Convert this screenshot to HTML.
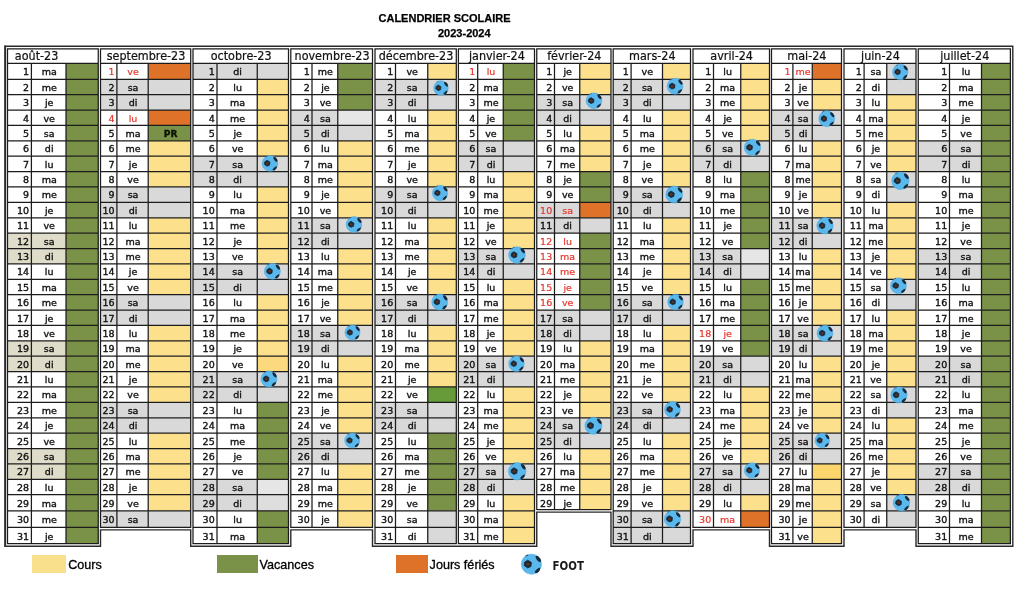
<!DOCTYPE html>
<html lang="fr">
<head>
<meta charset="utf-8">
<title>Calendrier scolaire 2023-2024</title>
<style>
html,body{margin:0;padding:0;background:#fff;}
body{width:1024px;height:592px;position:relative;overflow:hidden;font-family:"Liberation Sans",sans-serif;color:#111;}
.grid{position:absolute;left:0;top:0;display:block;}
.title{position:absolute;font-weight:bold;font-size:11px;line-height:12px;white-space:nowrap;margin:0;color:#000;-webkit-text-stroke:0.25px #000;}
.t1{left:378.5px;top:12px;}
.t2{left:438px;top:26.7px;}
.legend{position:absolute;left:0;top:0;margin:0;padding:0;list-style:none;}
.legend li{position:absolute;white-space:nowrap;font-size:12.6px;line-height:14px;color:#000;-webkit-text-stroke:0.3px #000;}
.legend .sw{position:absolute;top:0;height:17.7px;}
.legend .lb{position:absolute;top:3.1px;}
</style>
</head>
<body>
<svg class="grid" width="1024" height="592" viewBox="0 0 1024 592">
 <g class="fills">
  <rect x="66" y="63.45" width="32.25" height="15.83" fill="#7a9247"/>
  <rect x="66" y="79.28" width="32.25" height="15.39" fill="#7a9247"/>
  <rect x="66" y="94.67" width="32.25" height="15.39" fill="#7a9247"/>
  <rect x="66" y="110.06" width="32.25" height="15.38" fill="#7a9247"/>
  <rect x="66" y="125.44" width="32.25" height="15.38" fill="#7a9247"/>
  <rect x="66" y="140.82" width="32.25" height="15.39" fill="#7a9247"/>
  <rect x="66" y="156.21" width="32.25" height="15.38" fill="#7a9247"/>
  <rect x="66" y="171.59" width="32.25" height="15.39" fill="#7a9247"/>
  <rect x="66" y="186.98" width="32.25" height="15.39" fill="#7a9247"/>
  <rect x="66" y="202.37" width="32.25" height="15.38" fill="#7a9247"/>
  <rect x="66" y="217.75" width="32.25" height="15.38" fill="#7a9247"/>
  <rect x="7.5" y="233.13" width="58.5" height="15.39" fill="#dfdcc9"/>
  <rect x="66" y="233.13" width="32.25" height="15.39" fill="#7a9247"/>
  <rect x="7.5" y="248.52" width="58.5" height="15.38" fill="#dfdcc9"/>
  <rect x="66" y="248.52" width="32.25" height="15.38" fill="#7a9247"/>
  <rect x="66" y="263.9" width="32.25" height="15.39" fill="#7a9247"/>
  <rect x="66" y="279.29" width="32.25" height="15.39" fill="#7a9247"/>
  <rect x="66" y="294.68" width="32.25" height="15.38" fill="#7a9247"/>
  <rect x="66" y="310.06" width="32.25" height="15.38" fill="#7a9247"/>
  <rect x="66" y="325.44" width="32.25" height="15.39" fill="#7a9247"/>
  <rect x="7.5" y="340.83" width="58.5" height="15.38" fill="#dfdcc9"/>
  <rect x="66" y="340.83" width="32.25" height="15.38" fill="#7a9247"/>
  <rect x="7.5" y="356.21" width="58.5" height="15.39" fill="#dfdcc9"/>
  <rect x="66" y="356.21" width="32.25" height="15.39" fill="#7a9247"/>
  <rect x="66" y="371.6" width="32.25" height="15.38" fill="#7a9247"/>
  <rect x="66" y="386.98" width="32.25" height="15.39" fill="#7a9247"/>
  <rect x="66" y="402.37" width="32.25" height="15.38" fill="#7a9247"/>
  <rect x="66" y="417.75" width="32.25" height="15.39" fill="#7a9247"/>
  <rect x="66" y="433.14" width="32.25" height="15.38" fill="#7a9247"/>
  <rect x="7.5" y="448.52" width="58.5" height="15.39" fill="#dfdcc9"/>
  <rect x="66" y="448.52" width="32.25" height="15.39" fill="#7a9247"/>
  <rect x="7.5" y="463.91" width="58.5" height="15.38" fill="#dfdcc9"/>
  <rect x="66" y="463.91" width="32.25" height="15.38" fill="#7a9247"/>
  <rect x="66" y="479.29" width="32.25" height="15.39" fill="#7a9247"/>
  <rect x="66" y="494.68" width="32.25" height="16.12" fill="#7a9247"/>
  <rect x="66" y="510.8" width="32.25" height="16.5" fill="#7a9247"/>
  <rect x="66" y="527.3" width="32.25" height="16.3" fill="#7a9247"/>
  <rect x="148.2" y="63.45" width="42.5" height="15.83" fill="#dd7228"/>
  <rect x="100.5" y="79.28" width="47.7" height="15.39" fill="#d9d9d9"/>
  <rect x="148.2" y="79.28" width="42.5" height="15.39" fill="#d9d9d9"/>
  <rect x="100.5" y="94.67" width="47.7" height="15.39" fill="#d9d9d9"/>
  <rect x="148.2" y="94.67" width="42.5" height="15.39" fill="#d9d9d9"/>
  <rect x="148.2" y="110.06" width="42.5" height="15.38" fill="#dd7228"/>
  <rect x="148.2" y="125.44" width="42.5" height="15.38" fill="#7a9247"/>
  <rect x="148.2" y="140.82" width="42.5" height="15.39" fill="#fde08c"/>
  <rect x="148.2" y="156.21" width="42.5" height="15.38" fill="#fde08c"/>
  <rect x="148.2" y="171.59" width="42.5" height="15.39" fill="#fde08c"/>
  <rect x="100.5" y="186.98" width="47.7" height="15.39" fill="#d9d9d9"/>
  <rect x="148.2" y="186.98" width="42.5" height="15.39" fill="#d9d9d9"/>
  <rect x="100.5" y="202.37" width="47.7" height="15.38" fill="#d9d9d9"/>
  <rect x="148.2" y="202.37" width="42.5" height="15.38" fill="#d9d9d9"/>
  <rect x="148.2" y="217.75" width="42.5" height="15.38" fill="#fde08c"/>
  <rect x="148.2" y="233.13" width="42.5" height="15.39" fill="#fde08c"/>
  <rect x="148.2" y="248.52" width="42.5" height="15.38" fill="#fde08c"/>
  <rect x="148.2" y="263.9" width="42.5" height="15.39" fill="#fde08c"/>
  <rect x="148.2" y="279.29" width="42.5" height="15.39" fill="#fde08c"/>
  <rect x="100.5" y="294.68" width="47.7" height="15.38" fill="#d9d9d9"/>
  <rect x="148.2" y="294.68" width="42.5" height="15.38" fill="#d9d9d9"/>
  <rect x="100.5" y="310.06" width="47.7" height="15.38" fill="#d9d9d9"/>
  <rect x="148.2" y="310.06" width="42.5" height="15.38" fill="#d9d9d9"/>
  <rect x="148.2" y="325.44" width="42.5" height="15.39" fill="#fde08c"/>
  <rect x="148.2" y="340.83" width="42.5" height="15.38" fill="#fde08c"/>
  <rect x="148.2" y="356.21" width="42.5" height="15.39" fill="#fde08c"/>
  <rect x="148.2" y="371.6" width="42.5" height="15.38" fill="#fde08c"/>
  <rect x="148.2" y="386.98" width="42.5" height="15.39" fill="#fde08c"/>
  <rect x="100.5" y="402.37" width="47.7" height="15.38" fill="#d9d9d9"/>
  <rect x="148.2" y="402.37" width="42.5" height="15.38" fill="#d9d9d9"/>
  <rect x="100.5" y="417.75" width="47.7" height="15.39" fill="#d9d9d9"/>
  <rect x="148.2" y="417.75" width="42.5" height="15.39" fill="#d9d9d9"/>
  <rect x="148.2" y="433.14" width="42.5" height="15.38" fill="#fde08c"/>
  <rect x="148.2" y="448.52" width="42.5" height="15.39" fill="#fde08c"/>
  <rect x="148.2" y="463.91" width="42.5" height="15.38" fill="#fde08c"/>
  <rect x="148.2" y="479.29" width="42.5" height="15.39" fill="#fde08c"/>
  <rect x="148.2" y="494.68" width="42.5" height="16.12" fill="#fde08c"/>
  <rect x="100.5" y="510.8" width="47.7" height="16.5" fill="#d9d9d9"/>
  <rect x="148.2" y="510.8" width="42.5" height="16.5" fill="#d9d9d9"/>
  <rect x="193" y="63.45" width="64.25" height="15.83" fill="#d9d9d9"/>
  <rect x="257.25" y="63.45" width="31.25" height="15.83" fill="#d9d9d9"/>
  <rect x="257.25" y="79.28" width="31.25" height="15.39" fill="#fde08c"/>
  <rect x="257.25" y="94.67" width="31.25" height="15.39" fill="#fde08c"/>
  <rect x="257.25" y="110.06" width="31.25" height="15.38" fill="#fde08c"/>
  <rect x="257.25" y="125.44" width="31.25" height="15.38" fill="#fde08c"/>
  <rect x="257.25" y="140.82" width="31.25" height="15.39" fill="#fde08c"/>
  <rect x="193" y="156.21" width="64.25" height="15.38" fill="#d9d9d9"/>
  <rect x="257.25" y="156.21" width="31.25" height="15.38" fill="#d9d9d9"/>
  <rect x="193" y="171.59" width="64.25" height="15.39" fill="#d9d9d9"/>
  <rect x="257.25" y="171.59" width="31.25" height="15.39" fill="#d9d9d9"/>
  <rect x="257.25" y="186.98" width="31.25" height="15.39" fill="#fde08c"/>
  <rect x="257.25" y="202.37" width="31.25" height="15.38" fill="#fde08c"/>
  <rect x="257.25" y="217.75" width="31.25" height="15.38" fill="#fde08c"/>
  <rect x="257.25" y="233.13" width="31.25" height="15.39" fill="#fde08c"/>
  <rect x="257.25" y="248.52" width="31.25" height="15.38" fill="#fde08c"/>
  <rect x="193" y="263.9" width="64.25" height="15.39" fill="#d9d9d9"/>
  <rect x="257.25" y="263.9" width="31.25" height="15.39" fill="#d9d9d9"/>
  <rect x="193" y="279.29" width="64.25" height="15.39" fill="#d9d9d9"/>
  <rect x="257.25" y="279.29" width="31.25" height="15.39" fill="#d9d9d9"/>
  <rect x="257.25" y="294.68" width="31.25" height="15.38" fill="#fde08c"/>
  <rect x="257.25" y="310.06" width="31.25" height="15.38" fill="#fde08c"/>
  <rect x="257.25" y="325.44" width="31.25" height="15.39" fill="#fde08c"/>
  <rect x="257.25" y="340.83" width="31.25" height="15.38" fill="#fde08c"/>
  <rect x="257.25" y="356.21" width="31.25" height="15.39" fill="#fcd97e"/>
  <rect x="193" y="371.6" width="64.25" height="15.38" fill="#d9d9d9"/>
  <rect x="257.25" y="371.6" width="31.25" height="15.38" fill="#d9d9d9"/>
  <rect x="193" y="386.98" width="64.25" height="15.39" fill="#d9d9d9"/>
  <rect x="257.25" y="386.98" width="31.25" height="15.39" fill="#d9d9d9"/>
  <rect x="257.25" y="402.37" width="31.25" height="15.38" fill="#7a9247"/>
  <rect x="257.25" y="417.75" width="31.25" height="15.39" fill="#7a9247"/>
  <rect x="257.25" y="433.14" width="31.25" height="15.38" fill="#7a9247"/>
  <rect x="257.25" y="448.52" width="31.25" height="15.39" fill="#7a9247"/>
  <rect x="257.25" y="463.91" width="31.25" height="15.38" fill="#7a9247"/>
  <rect x="193" y="479.29" width="64.25" height="15.39" fill="#d9d9d9"/>
  <rect x="257.25" y="479.29" width="31.25" height="15.39" fill="#e6e6e6"/>
  <rect x="193" y="494.68" width="64.25" height="16.12" fill="#d9d9d9"/>
  <rect x="257.25" y="494.68" width="31.25" height="16.12" fill="#dedede"/>
  <rect x="257.25" y="510.8" width="31.25" height="16.5" fill="#7a9247"/>
  <rect x="257.25" y="527.3" width="31.25" height="16.3" fill="#7a9247"/>
  <rect x="337.75" y="63.45" width="34.75" height="15.83" fill="#7a9247"/>
  <rect x="337.75" y="79.28" width="34.75" height="15.39" fill="#7a9247"/>
  <rect x="337.75" y="94.67" width="34.75" height="15.39" fill="#7a9247"/>
  <rect x="290.8" y="110.06" width="46.95" height="15.38" fill="#d9d9d9"/>
  <rect x="337.75" y="110.06" width="34.75" height="15.38" fill="#e6e6e6"/>
  <rect x="290.8" y="125.44" width="46.95" height="15.38" fill="#d9d9d9"/>
  <rect x="337.75" y="125.44" width="34.75" height="15.38" fill="#d9d9d9"/>
  <rect x="337.75" y="140.82" width="34.75" height="15.39" fill="#fde08c"/>
  <rect x="337.75" y="156.21" width="34.75" height="15.38" fill="#fde08c"/>
  <rect x="337.75" y="171.59" width="34.75" height="15.39" fill="#fde08c"/>
  <rect x="337.75" y="186.98" width="34.75" height="15.39" fill="#fde08c"/>
  <rect x="337.75" y="202.37" width="34.75" height="15.38" fill="#fde08c"/>
  <rect x="290.8" y="217.75" width="46.95" height="15.38" fill="#d9d9d9"/>
  <rect x="337.75" y="217.75" width="34.75" height="15.38" fill="#d9d9d9"/>
  <rect x="290.8" y="233.13" width="46.95" height="15.39" fill="#d9d9d9"/>
  <rect x="337.75" y="233.13" width="34.75" height="15.39" fill="#d9d9d9"/>
  <rect x="337.75" y="248.52" width="34.75" height="15.38" fill="#fde08c"/>
  <rect x="337.75" y="263.9" width="34.75" height="15.39" fill="#fde08c"/>
  <rect x="337.75" y="279.29" width="34.75" height="15.39" fill="#fde08c"/>
  <rect x="337.75" y="294.68" width="34.75" height="15.38" fill="#fde08c"/>
  <rect x="337.75" y="310.06" width="34.75" height="15.38" fill="#fde08c"/>
  <rect x="290.8" y="325.44" width="46.95" height="15.39" fill="#d9d9d9"/>
  <rect x="337.75" y="325.44" width="34.75" height="15.39" fill="#d9d9d9"/>
  <rect x="290.8" y="340.83" width="46.95" height="15.38" fill="#d9d9d9"/>
  <rect x="337.75" y="340.83" width="34.75" height="15.38" fill="#d9d9d9"/>
  <rect x="337.75" y="356.21" width="34.75" height="15.39" fill="#fde08c"/>
  <rect x="337.75" y="371.6" width="34.75" height="15.38" fill="#fde08c"/>
  <rect x="337.75" y="386.98" width="34.75" height="15.39" fill="#fde08c"/>
  <rect x="337.75" y="402.37" width="34.75" height="15.38" fill="#fde08c"/>
  <rect x="337.75" y="417.75" width="34.75" height="15.39" fill="#fde08c"/>
  <rect x="290.8" y="433.14" width="46.95" height="15.38" fill="#d9d9d9"/>
  <rect x="337.75" y="433.14" width="34.75" height="15.38" fill="#d9d9d9"/>
  <rect x="290.8" y="448.52" width="46.95" height="15.39" fill="#d9d9d9"/>
  <rect x="337.75" y="448.52" width="34.75" height="15.39" fill="#d9d9d9"/>
  <rect x="337.75" y="463.91" width="34.75" height="15.38" fill="#fde08c"/>
  <rect x="337.75" y="479.29" width="34.75" height="15.39" fill="#fde08c"/>
  <rect x="337.75" y="494.68" width="34.75" height="16.12" fill="#fde08c"/>
  <rect x="337.75" y="510.8" width="34.75" height="16.5" fill="#fde08c"/>
  <rect x="427.75" y="63.45" width="28.55" height="15.83" fill="#fde08c"/>
  <rect x="375" y="79.28" width="52.75" height="15.39" fill="#d9d9d9"/>
  <rect x="427.75" y="79.28" width="28.55" height="15.39" fill="#d9d9d9"/>
  <rect x="375" y="94.67" width="52.75" height="15.39" fill="#d9d9d9"/>
  <rect x="427.75" y="94.67" width="28.55" height="15.39" fill="#d9d9d9"/>
  <rect x="427.75" y="110.06" width="28.55" height="15.38" fill="#fde08c"/>
  <rect x="427.75" y="125.44" width="28.55" height="15.38" fill="#fde08c"/>
  <rect x="427.75" y="140.82" width="28.55" height="15.39" fill="#fde08c"/>
  <rect x="427.75" y="156.21" width="28.55" height="15.38" fill="#fde08c"/>
  <rect x="427.75" y="171.59" width="28.55" height="15.39" fill="#fde08c"/>
  <rect x="375" y="186.98" width="52.75" height="15.39" fill="#d9d9d9"/>
  <rect x="427.75" y="186.98" width="28.55" height="15.39" fill="#d9d9d9"/>
  <rect x="375" y="202.37" width="52.75" height="15.38" fill="#d9d9d9"/>
  <rect x="427.75" y="202.37" width="28.55" height="15.38" fill="#d9d9d9"/>
  <rect x="427.75" y="217.75" width="28.55" height="15.38" fill="#fde08c"/>
  <rect x="427.75" y="233.13" width="28.55" height="15.39" fill="#fde08c"/>
  <rect x="427.75" y="248.52" width="28.55" height="15.38" fill="#fde08c"/>
  <rect x="427.75" y="263.9" width="28.55" height="15.39" fill="#fde08c"/>
  <rect x="427.75" y="279.29" width="28.55" height="15.39" fill="#fde08c"/>
  <rect x="375" y="294.68" width="52.75" height="15.38" fill="#d9d9d9"/>
  <rect x="427.75" y="294.68" width="28.55" height="15.38" fill="#d9d9d9"/>
  <rect x="375" y="310.06" width="52.75" height="15.38" fill="#d9d9d9"/>
  <rect x="427.75" y="310.06" width="28.55" height="15.38" fill="#d9d9d9"/>
  <rect x="427.75" y="325.44" width="28.55" height="15.39" fill="#fde08c"/>
  <rect x="427.75" y="340.83" width="28.55" height="15.38" fill="#fde08c"/>
  <rect x="427.75" y="356.21" width="28.55" height="15.39" fill="#fde08c"/>
  <rect x="427.75" y="371.6" width="28.55" height="15.38" fill="#fde08c"/>
  <rect x="427.75" y="386.98" width="28.55" height="15.39" fill="#679b3a"/>
  <rect x="375" y="402.37" width="52.75" height="15.38" fill="#d9d9d9"/>
  <rect x="427.75" y="402.37" width="28.55" height="15.38" fill="#d9d9d9"/>
  <rect x="375" y="417.75" width="52.75" height="15.39" fill="#d9d9d9"/>
  <rect x="427.75" y="417.75" width="28.55" height="15.39" fill="#d9d9d9"/>
  <rect x="427.75" y="433.14" width="28.55" height="15.38" fill="#7a9247"/>
  <rect x="427.75" y="448.52" width="28.55" height="15.39" fill="#7a9247"/>
  <rect x="427.75" y="463.91" width="28.55" height="15.38" fill="#7a9247"/>
  <rect x="427.75" y="479.29" width="28.55" height="15.39" fill="#7a9247"/>
  <rect x="427.75" y="494.68" width="28.55" height="16.12" fill="#7a9247"/>
  <rect x="427.75" y="510.8" width="28.55" height="16.5" fill="#d9d9d9"/>
  <rect x="427.75" y="527.3" width="28.55" height="16.3" fill="#d9d9d9"/>
  <rect x="503.25" y="63.45" width="31.25" height="15.83" fill="#7a9247"/>
  <rect x="503.25" y="79.28" width="31.25" height="15.39" fill="#7a9247"/>
  <rect x="503.25" y="94.67" width="31.25" height="15.39" fill="#7a9247"/>
  <rect x="503.25" y="110.06" width="31.25" height="15.38" fill="#7a9247"/>
  <rect x="503.25" y="125.44" width="31.25" height="15.38" fill="#7a9247"/>
  <rect x="458.4" y="140.82" width="44.85" height="15.39" fill="#d9d9d9"/>
  <rect x="503.25" y="140.82" width="31.25" height="15.39" fill="#d9d9d9"/>
  <rect x="458.4" y="156.21" width="44.85" height="15.38" fill="#d9d9d9"/>
  <rect x="503.25" y="156.21" width="31.25" height="15.38" fill="#d9d9d9"/>
  <rect x="503.25" y="171.59" width="31.25" height="15.39" fill="#fde08c"/>
  <rect x="503.25" y="186.98" width="31.25" height="15.39" fill="#fde08c"/>
  <rect x="503.25" y="202.37" width="31.25" height="15.38" fill="#fde08c"/>
  <rect x="503.25" y="217.75" width="31.25" height="15.38" fill="#fde08c"/>
  <rect x="503.25" y="233.13" width="31.25" height="15.39" fill="#fde08c"/>
  <rect x="458.4" y="248.52" width="44.85" height="15.38" fill="#d9d9d9"/>
  <rect x="503.25" y="248.52" width="31.25" height="15.38" fill="#d9d9d9"/>
  <rect x="458.4" y="263.9" width="44.85" height="15.39" fill="#d9d9d9"/>
  <rect x="503.25" y="263.9" width="31.25" height="15.39" fill="#d9d9d9"/>
  <rect x="503.25" y="279.29" width="31.25" height="15.39" fill="#fde08c"/>
  <rect x="503.25" y="294.68" width="31.25" height="15.38" fill="#fde08c"/>
  <rect x="503.25" y="310.06" width="31.25" height="15.38" fill="#fde08c"/>
  <rect x="503.25" y="325.44" width="31.25" height="15.39" fill="#fde08c"/>
  <rect x="503.25" y="340.83" width="31.25" height="15.38" fill="#fde08c"/>
  <rect x="458.4" y="356.21" width="44.85" height="15.39" fill="#d9d9d9"/>
  <rect x="503.25" y="356.21" width="31.25" height="15.39" fill="#d9d9d9"/>
  <rect x="458.4" y="371.6" width="44.85" height="15.38" fill="#d9d9d9"/>
  <rect x="503.25" y="371.6" width="31.25" height="15.38" fill="#d9d9d9"/>
  <rect x="503.25" y="386.98" width="31.25" height="15.39" fill="#fde08c"/>
  <rect x="503.25" y="402.37" width="31.25" height="15.38" fill="#fde08c"/>
  <rect x="503.25" y="417.75" width="31.25" height="15.39" fill="#fde08c"/>
  <rect x="503.25" y="433.14" width="31.25" height="15.38" fill="#fde08c"/>
  <rect x="503.25" y="448.52" width="31.25" height="15.39" fill="#fde08c"/>
  <rect x="458.4" y="463.91" width="44.85" height="15.38" fill="#d9d9d9"/>
  <rect x="503.25" y="463.91" width="31.25" height="15.38" fill="#d9d9d9"/>
  <rect x="458.4" y="479.29" width="44.85" height="15.39" fill="#d9d9d9"/>
  <rect x="503.25" y="479.29" width="31.25" height="15.39" fill="#d9d9d9"/>
  <rect x="503.25" y="494.68" width="31.25" height="16.12" fill="#fde08c"/>
  <rect x="503.25" y="510.8" width="31.25" height="16.5" fill="#fde08c"/>
  <rect x="503.25" y="527.3" width="31.25" height="16.3" fill="#fde08c"/>
  <rect x="579.75" y="63.45" width="31.25" height="15.83" fill="#fde08c"/>
  <rect x="579.75" y="79.28" width="31.25" height="15.39" fill="#fde08c"/>
  <rect x="536.75" y="94.67" width="43" height="15.39" fill="#d9d9d9"/>
  <rect x="579.75" y="94.67" width="31.25" height="15.39" fill="#d9d9d9"/>
  <rect x="536.75" y="110.06" width="43" height="15.38" fill="#d9d9d9"/>
  <rect x="579.75" y="110.06" width="31.25" height="15.38" fill="#d9d9d9"/>
  <rect x="579.75" y="125.44" width="31.25" height="15.38" fill="#fde08c"/>
  <rect x="579.75" y="140.82" width="31.25" height="15.39" fill="#fde08c"/>
  <rect x="579.75" y="156.21" width="31.25" height="15.38" fill="#fde08c"/>
  <rect x="579.75" y="171.59" width="31.25" height="15.39" fill="#7a9247"/>
  <rect x="579.75" y="186.98" width="31.25" height="15.39" fill="#7a9247"/>
  <rect x="536.75" y="202.37" width="43" height="15.38" fill="#d9d9d9"/>
  <rect x="579.75" y="202.37" width="31.25" height="15.38" fill="#dd7228"/>
  <rect x="536.75" y="217.75" width="43" height="15.38" fill="#d9d9d9"/>
  <rect x="579.75" y="217.75" width="31.25" height="15.38" fill="#d9d9d9"/>
  <rect x="579.75" y="233.13" width="31.25" height="15.39" fill="#7a9247"/>
  <rect x="579.75" y="248.52" width="31.25" height="15.38" fill="#7a9247"/>
  <rect x="579.75" y="263.9" width="31.25" height="15.39" fill="#7a9247"/>
  <rect x="579.75" y="279.29" width="31.25" height="15.39" fill="#7a9247"/>
  <rect x="579.75" y="294.68" width="31.25" height="15.38" fill="#7a9247"/>
  <rect x="536.75" y="310.06" width="43" height="15.38" fill="#d9d9d9"/>
  <rect x="579.75" y="310.06" width="31.25" height="15.38" fill="#d9d9d9"/>
  <rect x="536.75" y="325.44" width="43" height="15.39" fill="#d9d9d9"/>
  <rect x="579.75" y="325.44" width="31.25" height="15.39" fill="#d9d9d9"/>
  <rect x="579.75" y="340.83" width="31.25" height="15.38" fill="#fde08c"/>
  <rect x="579.75" y="356.21" width="31.25" height="15.39" fill="#fde08c"/>
  <rect x="579.75" y="371.6" width="31.25" height="15.38" fill="#fde08c"/>
  <rect x="579.75" y="386.98" width="31.25" height="15.39" fill="#fde08c"/>
  <rect x="579.75" y="402.37" width="31.25" height="15.38" fill="#fde08c"/>
  <rect x="536.75" y="417.75" width="43" height="15.39" fill="#d9d9d9"/>
  <rect x="579.75" y="417.75" width="31.25" height="15.39" fill="#d9d9d9"/>
  <rect x="536.75" y="433.14" width="43" height="15.38" fill="#d9d9d9"/>
  <rect x="579.75" y="433.14" width="31.25" height="15.38" fill="#d9d9d9"/>
  <rect x="579.75" y="448.52" width="31.25" height="15.39" fill="#fde08c"/>
  <rect x="579.75" y="463.91" width="31.25" height="15.38" fill="#fde08c"/>
  <rect x="579.75" y="479.29" width="31.25" height="15.39" fill="#fde08c"/>
  <rect x="579.75" y="494.68" width="31.25" height="14.82" fill="#fde08c"/>
  <rect x="662.5" y="63.45" width="28" height="15.83" fill="#fde08c"/>
  <rect x="613.2" y="79.28" width="49.3" height="15.39" fill="#d9d9d9"/>
  <rect x="662.5" y="79.28" width="28" height="15.39" fill="#d9d9d9"/>
  <rect x="613.2" y="94.67" width="49.3" height="15.39" fill="#d9d9d9"/>
  <rect x="662.5" y="94.67" width="28" height="15.39" fill="#d9d9d9"/>
  <rect x="662.5" y="110.06" width="28" height="15.38" fill="#fde08c"/>
  <rect x="662.5" y="125.44" width="28" height="15.38" fill="#fde08c"/>
  <rect x="662.5" y="140.82" width="28" height="15.39" fill="#fde08c"/>
  <rect x="662.5" y="156.21" width="28" height="15.38" fill="#fde08c"/>
  <rect x="662.5" y="171.59" width="28" height="15.39" fill="#fde08c"/>
  <rect x="613.2" y="186.98" width="49.3" height="15.39" fill="#d9d9d9"/>
  <rect x="662.5" y="186.98" width="28" height="15.39" fill="#d9d9d9"/>
  <rect x="613.2" y="202.37" width="49.3" height="15.38" fill="#d9d9d9"/>
  <rect x="662.5" y="202.37" width="28" height="15.38" fill="#d9d9d9"/>
  <rect x="662.5" y="217.75" width="28" height="15.38" fill="#fde08c"/>
  <rect x="662.5" y="233.13" width="28" height="15.39" fill="#fde08c"/>
  <rect x="662.5" y="248.52" width="28" height="15.38" fill="#fde08c"/>
  <rect x="662.5" y="263.9" width="28" height="15.39" fill="#fde08c"/>
  <rect x="662.5" y="279.29" width="28" height="15.39" fill="#fde08c"/>
  <rect x="613.2" y="294.68" width="49.3" height="15.38" fill="#d9d9d9"/>
  <rect x="662.5" y="294.68" width="28" height="15.38" fill="#d9d9d9"/>
  <rect x="613.2" y="310.06" width="49.3" height="15.38" fill="#d9d9d9"/>
  <rect x="662.5" y="310.06" width="28" height="15.38" fill="#d9d9d9"/>
  <rect x="662.5" y="325.44" width="28" height="15.39" fill="#fde08c"/>
  <rect x="662.5" y="340.83" width="28" height="15.38" fill="#fde08c"/>
  <rect x="662.5" y="356.21" width="28" height="15.39" fill="#fde08c"/>
  <rect x="662.5" y="371.6" width="28" height="15.38" fill="#fde08c"/>
  <rect x="662.5" y="386.98" width="28" height="15.39" fill="#fde08c"/>
  <rect x="613.2" y="402.37" width="49.3" height="15.38" fill="#d9d9d9"/>
  <rect x="662.5" y="402.37" width="28" height="15.38" fill="#d9d9d9"/>
  <rect x="613.2" y="417.75" width="49.3" height="15.39" fill="#d9d9d9"/>
  <rect x="662.5" y="417.75" width="28" height="15.39" fill="#d9d9d9"/>
  <rect x="662.5" y="433.14" width="28" height="15.38" fill="#fde08c"/>
  <rect x="662.5" y="448.52" width="28" height="15.39" fill="#fde08c"/>
  <rect x="662.5" y="463.91" width="28" height="15.38" fill="#fde08c"/>
  <rect x="662.5" y="479.29" width="28" height="15.39" fill="#fde08c"/>
  <rect x="662.5" y="494.68" width="28" height="16.12" fill="#fde08c"/>
  <rect x="613.2" y="510.8" width="49.3" height="16.5" fill="#d9d9d9"/>
  <rect x="662.5" y="510.8" width="28" height="16.5" fill="#d9d9d9"/>
  <rect x="613.2" y="527.3" width="49.3" height="16.3" fill="#d9d9d9"/>
  <rect x="662.5" y="527.3" width="28" height="16.3" fill="#d9d9d9"/>
  <rect x="740.75" y="63.45" width="28.75" height="15.83" fill="#fde08c"/>
  <rect x="740.75" y="79.28" width="28.75" height="15.39" fill="#fde08c"/>
  <rect x="740.75" y="94.67" width="28.75" height="15.39" fill="#fde08c"/>
  <rect x="740.75" y="110.06" width="28.75" height="15.38" fill="#fde08c"/>
  <rect x="740.75" y="125.44" width="28.75" height="15.38" fill="#fde08c"/>
  <rect x="693" y="140.82" width="47.75" height="15.39" fill="#d9d9d9"/>
  <rect x="740.75" y="140.82" width="28.75" height="15.39" fill="#d9d9d9"/>
  <rect x="693" y="156.21" width="47.75" height="15.38" fill="#d9d9d9"/>
  <rect x="740.75" y="156.21" width="28.75" height="15.38" fill="#d9d9d9"/>
  <rect x="740.75" y="171.59" width="28.75" height="15.39" fill="#7a9247"/>
  <rect x="740.75" y="186.98" width="28.75" height="15.39" fill="#7a9247"/>
  <rect x="740.75" y="202.37" width="28.75" height="15.38" fill="#7a9247"/>
  <rect x="740.75" y="217.75" width="28.75" height="15.38" fill="#7a9247"/>
  <rect x="740.75" y="233.13" width="28.75" height="15.39" fill="#7a9247"/>
  <rect x="693" y="248.52" width="47.75" height="15.38" fill="#d9d9d9"/>
  <rect x="740.75" y="248.52" width="28.75" height="15.38" fill="#e6e6e6"/>
  <rect x="693" y="263.9" width="47.75" height="15.39" fill="#d9d9d9"/>
  <rect x="740.75" y="263.9" width="28.75" height="15.39" fill="#dedede"/>
  <rect x="740.75" y="279.29" width="28.75" height="15.39" fill="#7a9247"/>
  <rect x="740.75" y="294.68" width="28.75" height="15.38" fill="#7a9247"/>
  <rect x="740.75" y="310.06" width="28.75" height="15.38" fill="#7a9247"/>
  <rect x="740.75" y="325.44" width="28.75" height="15.39" fill="#7a9247"/>
  <rect x="740.75" y="340.83" width="28.75" height="15.38" fill="#7a9247"/>
  <rect x="693" y="356.21" width="47.75" height="15.39" fill="#d9d9d9"/>
  <rect x="740.75" y="356.21" width="28.75" height="15.39" fill="#d9d9d9"/>
  <rect x="693" y="371.6" width="47.75" height="15.38" fill="#d9d9d9"/>
  <rect x="740.75" y="371.6" width="28.75" height="15.38" fill="#d9d9d9"/>
  <rect x="740.75" y="386.98" width="28.75" height="15.39" fill="#fde08c"/>
  <rect x="740.75" y="402.37" width="28.75" height="15.38" fill="#fde08c"/>
  <rect x="740.75" y="417.75" width="28.75" height="15.39" fill="#fde08c"/>
  <rect x="740.75" y="433.14" width="28.75" height="15.38" fill="#fde08c"/>
  <rect x="740.75" y="448.52" width="28.75" height="15.39" fill="#fde08c"/>
  <rect x="693" y="463.91" width="47.75" height="15.38" fill="#d9d9d9"/>
  <rect x="740.75" y="463.91" width="28.75" height="15.38" fill="#d9d9d9"/>
  <rect x="693" y="479.29" width="47.75" height="15.39" fill="#d9d9d9"/>
  <rect x="740.75" y="479.29" width="28.75" height="15.39" fill="#d9d9d9"/>
  <rect x="740.75" y="494.68" width="28.75" height="16.12" fill="#fde08c"/>
  <rect x="740.75" y="510.8" width="28.75" height="16.5" fill="#dd7228"/>
  <rect x="812.25" y="63.45" width="29.25" height="15.83" fill="#dd7228"/>
  <rect x="812.25" y="79.28" width="29.25" height="15.39" fill="#fde08c"/>
  <rect x="812.25" y="94.67" width="29.25" height="15.39" fill="#fde08c"/>
  <rect x="771.5" y="110.06" width="40.75" height="15.38" fill="#d9d9d9"/>
  <rect x="812.25" y="110.06" width="29.25" height="15.38" fill="#d9d9d9"/>
  <rect x="771.5" y="125.44" width="40.75" height="15.38" fill="#d9d9d9"/>
  <rect x="812.25" y="125.44" width="29.25" height="15.38" fill="#d9d9d9"/>
  <rect x="812.25" y="140.82" width="29.25" height="15.39" fill="#fde08c"/>
  <rect x="812.25" y="156.21" width="29.25" height="15.38" fill="#fde08c"/>
  <rect x="812.25" y="171.59" width="29.25" height="15.39" fill="#fde08c"/>
  <rect x="812.25" y="186.98" width="29.25" height="15.39" fill="#fde08c"/>
  <rect x="812.25" y="202.37" width="29.25" height="15.38" fill="#fde08c"/>
  <rect x="771.5" y="217.75" width="40.75" height="15.38" fill="#d9d9d9"/>
  <rect x="812.25" y="217.75" width="29.25" height="15.38" fill="#d9d9d9"/>
  <rect x="771.5" y="233.13" width="40.75" height="15.39" fill="#d9d9d9"/>
  <rect x="812.25" y="233.13" width="29.25" height="15.39" fill="#d9d9d9"/>
  <rect x="812.25" y="248.52" width="29.25" height="15.38" fill="#fde08c"/>
  <rect x="812.25" y="263.9" width="29.25" height="15.39" fill="#fde08c"/>
  <rect x="812.25" y="279.29" width="29.25" height="15.39" fill="#fde08c"/>
  <rect x="812.25" y="294.68" width="29.25" height="15.38" fill="#fde08c"/>
  <rect x="812.25" y="310.06" width="29.25" height="15.38" fill="#fde08c"/>
  <rect x="771.5" y="325.44" width="40.75" height="15.39" fill="#d9d9d9"/>
  <rect x="812.25" y="325.44" width="29.25" height="15.39" fill="#d9d9d9"/>
  <rect x="771.5" y="340.83" width="40.75" height="15.38" fill="#d9d9d9"/>
  <rect x="812.25" y="340.83" width="29.25" height="15.38" fill="#d9d9d9"/>
  <rect x="812.25" y="356.21" width="29.25" height="15.39" fill="#fde08c"/>
  <rect x="812.25" y="371.6" width="29.25" height="15.38" fill="#fde08c"/>
  <rect x="812.25" y="386.98" width="29.25" height="15.39" fill="#fde08c"/>
  <rect x="812.25" y="402.37" width="29.25" height="15.38" fill="#fde08c"/>
  <rect x="812.25" y="417.75" width="29.25" height="15.39" fill="#fde08c"/>
  <rect x="771.5" y="433.14" width="40.75" height="15.38" fill="#d9d9d9"/>
  <rect x="812.25" y="433.14" width="29.25" height="15.38" fill="#d9d9d9"/>
  <rect x="771.5" y="448.52" width="40.75" height="15.39" fill="#d9d9d9"/>
  <rect x="812.25" y="448.52" width="29.25" height="15.39" fill="#d9d9d9"/>
  <rect x="812.25" y="463.91" width="29.25" height="15.38" fill="#fcd56c"/>
  <rect x="812.25" y="479.29" width="29.25" height="15.39" fill="#fde08c"/>
  <rect x="812.25" y="494.68" width="29.25" height="16.12" fill="#fde08c"/>
  <rect x="812.25" y="510.8" width="29.25" height="16.5" fill="#fde08c"/>
  <rect x="812.25" y="527.3" width="29.25" height="16.3" fill="#fde08c"/>
  <rect x="886.75" y="63.45" width="29.25" height="15.83" fill="#d9d9d9"/>
  <rect x="886.75" y="79.28" width="29.25" height="15.39" fill="#d9d9d9"/>
  <rect x="886.75" y="94.67" width="29.25" height="15.39" fill="#fde08c"/>
  <rect x="886.75" y="110.06" width="29.25" height="15.38" fill="#fde08c"/>
  <rect x="886.75" y="125.44" width="29.25" height="15.38" fill="#fde08c"/>
  <rect x="886.75" y="140.82" width="29.25" height="15.39" fill="#fde08c"/>
  <rect x="886.75" y="156.21" width="29.25" height="15.38" fill="#fde08c"/>
  <rect x="886.75" y="171.59" width="29.25" height="15.39" fill="#d9d9d9"/>
  <rect x="886.75" y="186.98" width="29.25" height="15.39" fill="#d9d9d9"/>
  <rect x="886.75" y="202.37" width="29.25" height="15.38" fill="#fde08c"/>
  <rect x="886.75" y="217.75" width="29.25" height="15.38" fill="#fde08c"/>
  <rect x="886.75" y="233.13" width="29.25" height="15.39" fill="#fde08c"/>
  <rect x="886.75" y="248.52" width="29.25" height="15.38" fill="#fde08c"/>
  <rect x="886.75" y="263.9" width="29.25" height="15.39" fill="#fde08c"/>
  <rect x="886.75" y="279.29" width="29.25" height="15.39" fill="#d9d9d9"/>
  <rect x="886.75" y="294.68" width="29.25" height="15.38" fill="#d9d9d9"/>
  <rect x="886.75" y="310.06" width="29.25" height="15.38" fill="#fde08c"/>
  <rect x="886.75" y="325.44" width="29.25" height="15.39" fill="#fde08c"/>
  <rect x="886.75" y="340.83" width="29.25" height="15.38" fill="#fde08c"/>
  <rect x="886.75" y="356.21" width="29.25" height="15.39" fill="#fde08c"/>
  <rect x="886.75" y="371.6" width="29.25" height="15.38" fill="#fde08c"/>
  <rect x="886.75" y="386.98" width="29.25" height="15.39" fill="#d9d9d9"/>
  <rect x="886.75" y="402.37" width="29.25" height="15.38" fill="#d9d9d9"/>
  <rect x="886.75" y="417.75" width="29.25" height="15.39" fill="#fde08c"/>
  <rect x="886.75" y="433.14" width="29.25" height="15.38" fill="#fde08c"/>
  <rect x="886.75" y="448.52" width="29.25" height="15.39" fill="#fde08c"/>
  <rect x="886.75" y="463.91" width="29.25" height="15.38" fill="#fde08c"/>
  <rect x="886.75" y="479.29" width="29.25" height="15.39" fill="#fde08c"/>
  <rect x="886.75" y="494.68" width="29.25" height="16.12" fill="#d9d9d9"/>
  <rect x="886.75" y="510.8" width="29.25" height="16.5" fill="#d9d9d9"/>
  <rect x="981.5" y="63.45" width="28.9" height="15.83" fill="#7a9247"/>
  <rect x="981.5" y="79.28" width="28.9" height="15.39" fill="#7a9247"/>
  <rect x="981.5" y="94.67" width="28.9" height="15.39" fill="#7a9247"/>
  <rect x="981.5" y="110.06" width="28.9" height="15.38" fill="#7a9247"/>
  <rect x="981.5" y="125.44" width="28.9" height="15.38" fill="#7a9247"/>
  <rect x="918.25" y="140.82" width="63.25" height="15.39" fill="#d9d9d9"/>
  <rect x="981.5" y="140.82" width="28.9" height="15.39" fill="#7a9247"/>
  <rect x="918.25" y="156.21" width="63.25" height="15.38" fill="#d9d9d9"/>
  <rect x="981.5" y="156.21" width="28.9" height="15.38" fill="#7a9247"/>
  <rect x="981.5" y="171.59" width="28.9" height="15.39" fill="#7a9247"/>
  <rect x="981.5" y="186.98" width="28.9" height="15.39" fill="#7a9247"/>
  <rect x="981.5" y="202.37" width="28.9" height="15.38" fill="#7a9247"/>
  <rect x="981.5" y="217.75" width="28.9" height="15.38" fill="#7a9247"/>
  <rect x="981.5" y="233.13" width="28.9" height="15.39" fill="#7a9247"/>
  <rect x="918.25" y="248.52" width="63.25" height="15.38" fill="#d9d9d9"/>
  <rect x="981.5" y="248.52" width="28.9" height="15.38" fill="#7a9247"/>
  <rect x="918.25" y="263.9" width="63.25" height="15.39" fill="#d9d9d9"/>
  <rect x="981.5" y="263.9" width="28.9" height="15.39" fill="#7a9247"/>
  <rect x="981.5" y="279.29" width="28.9" height="15.39" fill="#7a9247"/>
  <rect x="981.5" y="294.68" width="28.9" height="15.38" fill="#7a9247"/>
  <rect x="981.5" y="310.06" width="28.9" height="15.38" fill="#7a9247"/>
  <rect x="981.5" y="325.44" width="28.9" height="15.39" fill="#7a9247"/>
  <rect x="981.5" y="340.83" width="28.9" height="15.38" fill="#7a9247"/>
  <rect x="918.25" y="356.21" width="63.25" height="15.39" fill="#d9d9d9"/>
  <rect x="981.5" y="356.21" width="28.9" height="15.39" fill="#7a9247"/>
  <rect x="918.25" y="371.6" width="63.25" height="15.38" fill="#d9d9d9"/>
  <rect x="981.5" y="371.6" width="28.9" height="15.38" fill="#7a9247"/>
  <rect x="981.5" y="386.98" width="28.9" height="15.39" fill="#7a9247"/>
  <rect x="981.5" y="402.37" width="28.9" height="15.38" fill="#7a9247"/>
  <rect x="981.5" y="417.75" width="28.9" height="15.39" fill="#7a9247"/>
  <rect x="981.5" y="433.14" width="28.9" height="15.38" fill="#7a9247"/>
  <rect x="981.5" y="448.52" width="28.9" height="15.39" fill="#7a9247"/>
  <rect x="918.25" y="463.91" width="63.25" height="15.38" fill="#d9d9d9"/>
  <rect x="981.5" y="463.91" width="28.9" height="15.38" fill="#7a9247"/>
  <rect x="918.25" y="479.29" width="63.25" height="15.39" fill="#d9d9d9"/>
  <rect x="981.5" y="479.29" width="28.9" height="15.39" fill="#7a9247"/>
  <rect x="981.5" y="494.68" width="28.9" height="16.12" fill="#7a9247"/>
  <rect x="981.5" y="510.8" width="28.9" height="16.5" fill="#7a9247"/>
  <rect x="981.5" y="527.3" width="28.9" height="16.3" fill="#7a9247"/>
 </g>
 <g class="lines" stroke="#1c1c1c" stroke-width="1.25" fill="none">
  <path d="M7.5 48.85H98.25M7.5 63.45H98.25M7.5 79.28H98.25M7.5 94.67H98.25M7.5 110.06H98.25M7.5 125.44H98.25M7.5 140.82H98.25M7.5 156.21H98.25M7.5 171.59H98.25M7.5 186.98H98.25M7.5 202.37H98.25M7.5 217.75H98.25M7.5 233.13H98.25M7.5 248.52H98.25M7.5 263.9H98.25M7.5 279.29H98.25M7.5 294.68H98.25M7.5 310.06H98.25M7.5 325.44H98.25M7.5 340.83H98.25M7.5 356.21H98.25M7.5 371.6H98.25M7.5 386.98H98.25M7.5 402.37H98.25M7.5 417.75H98.25M7.5 433.14H98.25M7.5 448.52H98.25M7.5 463.91H98.25M7.5 479.29H98.25M7.5 494.68H98.25M7.5 510.8H98.25M7.5 527.3H98.25M7.5 543.6H98.25M7.5 48.25V544.2M98.25 48.25V544.2M31.4 63.45V543.6M66 63.45V543.6"/>
  <path d="M100.5 48.85H190.7M100.5 63.45H190.7M100.5 79.28H190.7M100.5 94.67H190.7M100.5 110.06H190.7M100.5 125.44H190.7M100.5 140.82H190.7M100.5 156.21H190.7M100.5 171.59H190.7M100.5 186.98H190.7M100.5 202.37H190.7M100.5 217.75H190.7M100.5 233.13H190.7M100.5 248.52H190.7M100.5 263.9H190.7M100.5 279.29H190.7M100.5 294.68H190.7M100.5 310.06H190.7M100.5 325.44H190.7M100.5 340.83H190.7M100.5 356.21H190.7M100.5 371.6H190.7M100.5 386.98H190.7M100.5 402.37H190.7M100.5 417.75H190.7M100.5 433.14H190.7M100.5 448.52H190.7M100.5 463.91H190.7M100.5 479.29H190.7M100.5 494.68H190.7M100.5 510.8H190.7M100.5 527.3H190.7M100.5 48.25V527.9M190.7 48.25V527.9M116.9 63.45V527.3M148.2 63.45V527.3"/>
  <path d="M193 48.85H288.5M193 63.45H288.5M193 79.28H288.5M193 94.67H288.5M193 110.06H288.5M193 125.44H288.5M193 140.82H288.5M193 156.21H288.5M193 171.59H288.5M193 186.98H288.5M193 202.37H288.5M193 217.75H288.5M193 233.13H288.5M193 248.52H288.5M193 263.9H288.5M193 279.29H288.5M193 294.68H288.5M193 310.06H288.5M193 325.44H288.5M193 340.83H288.5M193 356.21H288.5M193 371.6H288.5M193 386.98H288.5M193 402.37H288.5M193 417.75H288.5M193 433.14H288.5M193 448.52H288.5M193 463.91H288.5M193 479.29H288.5M193 494.68H288.5M193 510.8H288.5M193 527.3H288.5M193 543.6H288.5M193 48.25V544.2M288.5 48.25V544.2M217 63.45V543.6M257.25 63.45V543.6"/>
  <path d="M290.8 48.85H372.5M290.8 63.45H372.5M290.8 79.28H372.5M290.8 94.67H372.5M290.8 110.06H372.5M290.8 125.44H372.5M290.8 140.82H372.5M290.8 156.21H372.5M290.8 171.59H372.5M290.8 186.98H372.5M290.8 202.37H372.5M290.8 217.75H372.5M290.8 233.13H372.5M290.8 248.52H372.5M290.8 263.9H372.5M290.8 279.29H372.5M290.8 294.68H372.5M290.8 310.06H372.5M290.8 325.44H372.5M290.8 340.83H372.5M290.8 356.21H372.5M290.8 371.6H372.5M290.8 386.98H372.5M290.8 402.37H372.5M290.8 417.75H372.5M290.8 433.14H372.5M290.8 448.52H372.5M290.8 463.91H372.5M290.8 479.29H372.5M290.8 494.68H372.5M290.8 510.8H372.5M290.8 527.3H372.5M290.8 48.25V527.9M372.5 48.25V527.9M312 63.45V527.3M337.75 63.45V527.3"/>
  <path d="M375 48.85H456.3M375 63.45H456.3M375 79.28H456.3M375 94.67H456.3M375 110.06H456.3M375 125.44H456.3M375 140.82H456.3M375 156.21H456.3M375 171.59H456.3M375 186.98H456.3M375 202.37H456.3M375 217.75H456.3M375 233.13H456.3M375 248.52H456.3M375 263.9H456.3M375 279.29H456.3M375 294.68H456.3M375 310.06H456.3M375 325.44H456.3M375 340.83H456.3M375 356.21H456.3M375 371.6H456.3M375 386.98H456.3M375 402.37H456.3M375 417.75H456.3M375 433.14H456.3M375 448.52H456.3M375 463.91H456.3M375 479.29H456.3M375 494.68H456.3M375 510.8H456.3M375 527.3H456.3M375 543.6H456.3M375 48.25V544.2M456.3 48.25V544.2M395.5 63.45V543.6M427.75 63.45V543.6"/>
  <path d="M458.4 48.85H534.5M458.4 63.45H534.5M458.4 79.28H534.5M458.4 94.67H534.5M458.4 110.06H534.5M458.4 125.44H534.5M458.4 140.82H534.5M458.4 156.21H534.5M458.4 171.59H534.5M458.4 186.98H534.5M458.4 202.37H534.5M458.4 217.75H534.5M458.4 233.13H534.5M458.4 248.52H534.5M458.4 263.9H534.5M458.4 279.29H534.5M458.4 294.68H534.5M458.4 310.06H534.5M458.4 325.44H534.5M458.4 340.83H534.5M458.4 356.21H534.5M458.4 371.6H534.5M458.4 386.98H534.5M458.4 402.37H534.5M458.4 417.75H534.5M458.4 433.14H534.5M458.4 448.52H534.5M458.4 463.91H534.5M458.4 479.29H534.5M458.4 494.68H534.5M458.4 510.8H534.5M458.4 527.3H534.5M458.4 543.6H534.5M458.4 48.25V544.2M534.5 48.25V544.2M477.7 63.45V543.6M503.25 63.45V543.6"/>
  <path d="M536.75 48.85H611M536.75 63.45H611M536.75 79.28H611M536.75 94.67H611M536.75 110.06H611M536.75 125.44H611M536.75 140.82H611M536.75 156.21H611M536.75 171.59H611M536.75 186.98H611M536.75 202.37H611M536.75 217.75H611M536.75 233.13H611M536.75 248.52H611M536.75 263.9H611M536.75 279.29H611M536.75 294.68H611M536.75 310.06H611M536.75 325.44H611M536.75 340.83H611M536.75 356.21H611M536.75 371.6H611M536.75 386.98H611M536.75 402.37H611M536.75 417.75H611M536.75 433.14H611M536.75 448.52H611M536.75 463.91H611M536.75 479.29H611M536.75 494.68H611M536.75 509.5H611M536.75 48.25V510.1M611 48.25V510.1M554.5 63.45V509.5M579.75 63.45V509.5"/>
  <path d="M613.2 48.85H690.5M613.2 63.45H690.5M613.2 79.28H690.5M613.2 94.67H690.5M613.2 110.06H690.5M613.2 125.44H690.5M613.2 140.82H690.5M613.2 156.21H690.5M613.2 171.59H690.5M613.2 186.98H690.5M613.2 202.37H690.5M613.2 217.75H690.5M613.2 233.13H690.5M613.2 248.52H690.5M613.2 263.9H690.5M613.2 279.29H690.5M613.2 294.68H690.5M613.2 310.06H690.5M613.2 325.44H690.5M613.2 340.83H690.5M613.2 356.21H690.5M613.2 371.6H690.5M613.2 386.98H690.5M613.2 402.37H690.5M613.2 417.75H690.5M613.2 433.14H690.5M613.2 448.52H690.5M613.2 463.91H690.5M613.2 479.29H690.5M613.2 494.68H690.5M613.2 510.8H690.5M613.2 527.3H690.5M613.2 543.6H690.5M613.2 48.25V544.2M690.5 48.25V544.2M631.1 63.45V543.6M662.5 63.45V543.6"/>
  <path d="M693 48.85H769.5M693 63.45H769.5M693 79.28H769.5M693 94.67H769.5M693 110.06H769.5M693 125.44H769.5M693 140.82H769.5M693 156.21H769.5M693 171.59H769.5M693 186.98H769.5M693 202.37H769.5M693 217.75H769.5M693 233.13H769.5M693 248.52H769.5M693 263.9H769.5M693 279.29H769.5M693 294.68H769.5M693 310.06H769.5M693 325.44H769.5M693 340.83H769.5M693 356.21H769.5M693 371.6H769.5M693 386.98H769.5M693 402.37H769.5M693 417.75H769.5M693 433.14H769.5M693 448.52H769.5M693 463.91H769.5M693 479.29H769.5M693 494.68H769.5M693 510.8H769.5M693 527.3H769.5M693 48.25V527.9M769.5 48.25V527.9M713.5 63.45V527.3M740.75 63.45V527.3"/>
  <path d="M771.5 48.85H841.5M771.5 63.45H841.5M771.5 79.28H841.5M771.5 94.67H841.5M771.5 110.06H841.5M771.5 125.44H841.5M771.5 140.82H841.5M771.5 156.21H841.5M771.5 171.59H841.5M771.5 186.98H841.5M771.5 202.37H841.5M771.5 217.75H841.5M771.5 233.13H841.5M771.5 248.52H841.5M771.5 263.9H841.5M771.5 279.29H841.5M771.5 294.68H841.5M771.5 310.06H841.5M771.5 325.44H841.5M771.5 340.83H841.5M771.5 356.21H841.5M771.5 371.6H841.5M771.5 386.98H841.5M771.5 402.37H841.5M771.5 417.75H841.5M771.5 433.14H841.5M771.5 448.52H841.5M771.5 463.91H841.5M771.5 479.29H841.5M771.5 494.68H841.5M771.5 510.8H841.5M771.5 527.3H841.5M771.5 543.6H841.5M771.5 48.25V544.2M841.5 48.25V544.2M792.9 63.45V543.6M812.25 63.45V543.6"/>
  <path d="M844 48.85H916M844 63.45H916M844 79.28H916M844 94.67H916M844 110.06H916M844 125.44H916M844 140.82H916M844 156.21H916M844 171.59H916M844 186.98H916M844 202.37H916M844 217.75H916M844 233.13H916M844 248.52H916M844 263.9H916M844 279.29H916M844 294.68H916M844 310.06H916M844 325.44H916M844 340.83H916M844 356.21H916M844 371.6H916M844 386.98H916M844 402.37H916M844 417.75H916M844 433.14H916M844 448.52H916M844 463.91H916M844 479.29H916M844 494.68H916M844 510.8H916M844 527.3H916M844 48.25V527.9M916 48.25V527.9M864.1 63.45V527.3M886.75 63.45V527.3"/>
  <path d="M918.25 48.85H1010.4M918.25 63.45H1010.4M918.25 79.28H1010.4M918.25 94.67H1010.4M918.25 110.06H1010.4M918.25 125.44H1010.4M918.25 140.82H1010.4M918.25 156.21H1010.4M918.25 171.59H1010.4M918.25 186.98H1010.4M918.25 202.37H1010.4M918.25 217.75H1010.4M918.25 233.13H1010.4M918.25 248.52H1010.4M918.25 263.9H1010.4M918.25 279.29H1010.4M918.25 294.68H1010.4M918.25 310.06H1010.4M918.25 325.44H1010.4M918.25 340.83H1010.4M918.25 356.21H1010.4M918.25 371.6H1010.4M918.25 386.98H1010.4M918.25 402.37H1010.4M918.25 417.75H1010.4M918.25 433.14H1010.4M918.25 448.52H1010.4M918.25 463.91H1010.4M918.25 479.29H1010.4M918.25 494.68H1010.4M918.25 510.8H1010.4M918.25 527.3H1010.4M918.25 543.6H1010.4M918.25 48.25V544.2M1010.4 48.25V544.2M949.5 63.45V543.6M981.5 63.45V543.6"/>
  <path stroke="#2a2a2a" stroke-width="1.4" d="M5.2 46.25H1012.8V546.2H916V529.9H844V546.2H769.5V529.9H693V546.2H611V512.1H536.75V546.2H372.5V529.9H290.8V546.2H190.7V529.9H100.5V546.2H5.2Z"/>
  <path stroke="#2a2a2a" stroke-width="1.8" d="M5.2 45.55V546.9"/>
 </g>
 <g class="balls">
  <g transform="translate(270 163.4) scale(1.01)">
    <circle r="7.8" fill="#5ab8ec" stroke="#4fa9dc" stroke-width="0.5"/>
    <path d="M-2.9-3.1 L0-1.3 L-0.4 1.8 L-3 2.8 L-5.6 0.9 L-5.2-1.6Z" fill="#15293a" stroke="#15293a" stroke-width="0.7" stroke-linejoin="round"/>
    <circle cx="-2.7" cy="0" r="1.35" fill="#5c3220"/>
    <path d="M3.2-6.2 Q4.6-6.8 5.4-6 Q7-4.7 7.5-3 L7-1.4 Q5.8-1.7 5-2.5 Q3.9-3.6 3.4-4.8Z" fill="#15293a"/>
    <path d="M6.8 2.6 L6.6 4.5 Q5.6 6.2 4.1 7 L2.4 6.5 Q3 5.1 4 4.2 Q5.2 3.1 6.8 2.6Z" fill="#15293a"/>
    <path d="M-4.8-6.3 Q-3.8-7.2 -2.4-7.5 L-2.6-6.8 Q-3.7-6.6 -4.6-5.9Z" fill="#1d3a52"/>
  </g>
  <g transform="translate(272.4 271.3) scale(1.03)">
    <circle r="7.8" fill="#5ab8ec" stroke="#4fa9dc" stroke-width="0.5"/>
    <path d="M-2.9-3.1 L0-1.3 L-0.4 1.8 L-3 2.8 L-5.6 0.9 L-5.2-1.6Z" fill="#15293a" stroke="#15293a" stroke-width="0.7" stroke-linejoin="round"/>
    <circle cx="-2.7" cy="0" r="1.35" fill="#5c3220"/>
    <path d="M3.2-6.2 Q4.6-6.8 5.4-6 Q7-4.7 7.5-3 L7-1.4 Q5.8-1.7 5-2.5 Q3.9-3.6 3.4-4.8Z" fill="#15293a"/>
    <path d="M6.8 2.6 L6.6 4.5 Q5.6 6.2 4.1 7 L2.4 6.5 Q3 5.1 4 4.2 Q5.2 3.1 6.8 2.6Z" fill="#15293a"/>
    <path d="M-4.8-6.3 Q-3.8-7.2 -2.4-7.5 L-2.6-6.8 Q-3.7-6.6 -4.6-5.9Z" fill="#1d3a52"/>
  </g>
  <g transform="translate(269 379) scale(1.03)">
    <circle r="7.8" fill="#5ab8ec" stroke="#4fa9dc" stroke-width="0.5"/>
    <path d="M-2.9-3.1 L0-1.3 L-0.4 1.8 L-3 2.8 L-5.6 0.9 L-5.2-1.6Z" fill="#15293a" stroke="#15293a" stroke-width="0.7" stroke-linejoin="round"/>
    <circle cx="-2.7" cy="0" r="1.35" fill="#5c3220"/>
    <path d="M3.2-6.2 Q4.6-6.8 5.4-6 Q7-4.7 7.5-3 L7-1.4 Q5.8-1.7 5-2.5 Q3.9-3.6 3.4-4.8Z" fill="#15293a"/>
    <path d="M6.8 2.6 L6.6 4.5 Q5.6 6.2 4.1 7 L2.4 6.5 Q3 5.1 4 4.2 Q5.2 3.1 6.8 2.6Z" fill="#15293a"/>
    <path d="M-4.8-6.3 Q-3.8-7.2 -2.4-7.5 L-2.6-6.8 Q-3.7-6.6 -4.6-5.9Z" fill="#1d3a52"/>
  </g>
  <g transform="translate(354 224.5) scale(1.01)">
    <circle r="7.8" fill="#5ab8ec" stroke="#4fa9dc" stroke-width="0.5"/>
    <path d="M-2.9-3.1 L0-1.3 L-0.4 1.8 L-3 2.8 L-5.6 0.9 L-5.2-1.6Z" fill="#15293a" stroke="#15293a" stroke-width="0.7" stroke-linejoin="round"/>
    <circle cx="-2.7" cy="0" r="1.35" fill="#5c3220"/>
    <path d="M3.2-6.2 Q4.6-6.8 5.4-6 Q7-4.7 7.5-3 L7-1.4 Q5.8-1.7 5-2.5 Q3.9-3.6 3.4-4.8Z" fill="#15293a"/>
    <path d="M6.8 2.6 L6.6 4.5 Q5.6 6.2 4.1 7 L2.4 6.5 Q3 5.1 4 4.2 Q5.2 3.1 6.8 2.6Z" fill="#15293a"/>
    <path d="M-4.8-6.3 Q-3.8-7.2 -2.4-7.5 L-2.6-6.8 Q-3.7-6.6 -4.6-5.9Z" fill="#1d3a52"/>
  </g>
  <g transform="translate(352.5 332.5) scale(0.97)">
    <circle r="7.8" fill="#5ab8ec" stroke="#4fa9dc" stroke-width="0.5"/>
    <path d="M-2.9-3.1 L0-1.3 L-0.4 1.8 L-3 2.8 L-5.6 0.9 L-5.2-1.6Z" fill="#15293a" stroke="#15293a" stroke-width="0.7" stroke-linejoin="round"/>
    <circle cx="-2.7" cy="0" r="1.35" fill="#5c3220"/>
    <path d="M3.2-6.2 Q4.6-6.8 5.4-6 Q7-4.7 7.5-3 L7-1.4 Q5.8-1.7 5-2.5 Q3.9-3.6 3.4-4.8Z" fill="#15293a"/>
    <path d="M6.8 2.6 L6.6 4.5 Q5.6 6.2 4.1 7 L2.4 6.5 Q3 5.1 4 4.2 Q5.2 3.1 6.8 2.6Z" fill="#15293a"/>
    <path d="M-4.8-6.3 Q-3.8-7.2 -2.4-7.5 L-2.6-6.8 Q-3.7-6.6 -4.6-5.9Z" fill="#1d3a52"/>
  </g>
  <g transform="translate(352.25 440.5) scale(0.97)">
    <circle r="7.8" fill="#5ab8ec" stroke="#4fa9dc" stroke-width="0.5"/>
    <path d="M-2.9-3.1 L0-1.3 L-0.4 1.8 L-3 2.8 L-5.6 0.9 L-5.2-1.6Z" fill="#15293a" stroke="#15293a" stroke-width="0.7" stroke-linejoin="round"/>
    <circle cx="-2.7" cy="0" r="1.35" fill="#5c3220"/>
    <path d="M3.2-6.2 Q4.6-6.8 5.4-6 Q7-4.7 7.5-3 L7-1.4 Q5.8-1.7 5-2.5 Q3.9-3.6 3.4-4.8Z" fill="#15293a"/>
    <path d="M6.8 2.6 L6.6 4.5 Q5.6 6.2 4.1 7 L2.4 6.5 Q3 5.1 4 4.2 Q5.2 3.1 6.8 2.6Z" fill="#15293a"/>
    <path d="M-4.8-6.3 Q-3.8-7.2 -2.4-7.5 L-2.6-6.8 Q-3.7-6.6 -4.6-5.9Z" fill="#1d3a52"/>
  </g>
  <g transform="translate(441 88) scale(0.94)">
    <circle r="7.8" fill="#5ab8ec" stroke="#4fa9dc" stroke-width="0.5"/>
    <path d="M-2.9-3.1 L0-1.3 L-0.4 1.8 L-3 2.8 L-5.6 0.9 L-5.2-1.6Z" fill="#15293a" stroke="#15293a" stroke-width="0.7" stroke-linejoin="round"/>
    <circle cx="-2.7" cy="0" r="1.35" fill="#5c3220"/>
    <path d="M3.2-6.2 Q4.6-6.8 5.4-6 Q7-4.7 7.5-3 L7-1.4 Q5.8-1.7 5-2.5 Q3.9-3.6 3.4-4.8Z" fill="#15293a"/>
    <path d="M6.8 2.6 L6.6 4.5 Q5.6 6.2 4.1 7 L2.4 6.5 Q3 5.1 4 4.2 Q5.2 3.1 6.8 2.6Z" fill="#15293a"/>
    <path d="M-4.8-6.3 Q-3.8-7.2 -2.4-7.5 L-2.6-6.8 Q-3.7-6.6 -4.6-5.9Z" fill="#1d3a52"/>
  </g>
  <g transform="translate(440.1 193) scale(0.99)">
    <circle r="7.8" fill="#5ab8ec" stroke="#4fa9dc" stroke-width="0.5"/>
    <path d="M-2.9-3.1 L0-1.3 L-0.4 1.8 L-3 2.8 L-5.6 0.9 L-5.2-1.6Z" fill="#15293a" stroke="#15293a" stroke-width="0.7" stroke-linejoin="round"/>
    <circle cx="-2.7" cy="0" r="1.35" fill="#5c3220"/>
    <path d="M3.2-6.2 Q4.6-6.8 5.4-6 Q7-4.7 7.5-3 L7-1.4 Q5.8-1.7 5-2.5 Q3.9-3.6 3.4-4.8Z" fill="#15293a"/>
    <path d="M6.8 2.6 L6.6 4.5 Q5.6 6.2 4.1 7 L2.4 6.5 Q3 5.1 4 4.2 Q5.2 3.1 6.8 2.6Z" fill="#15293a"/>
    <path d="M-4.8-6.3 Q-3.8-7.2 -2.4-7.5 L-2.6-6.8 Q-3.7-6.6 -4.6-5.9Z" fill="#1d3a52"/>
  </g>
  <g transform="translate(439.75 302) scale(1.03)">
    <circle r="7.8" fill="#5ab8ec" stroke="#4fa9dc" stroke-width="0.5"/>
    <path d="M-2.9-3.1 L0-1.3 L-0.4 1.8 L-3 2.8 L-5.6 0.9 L-5.2-1.6Z" fill="#15293a" stroke="#15293a" stroke-width="0.7" stroke-linejoin="round"/>
    <circle cx="-2.7" cy="0" r="1.35" fill="#5c3220"/>
    <path d="M3.2-6.2 Q4.6-6.8 5.4-6 Q7-4.7 7.5-3 L7-1.4 Q5.8-1.7 5-2.5 Q3.9-3.6 3.4-4.8Z" fill="#15293a"/>
    <path d="M6.8 2.6 L6.6 4.5 Q5.6 6.2 4.1 7 L2.4 6.5 Q3 5.1 4 4.2 Q5.2 3.1 6.8 2.6Z" fill="#15293a"/>
    <path d="M-4.8-6.3 Q-3.8-7.2 -2.4-7.5 L-2.6-6.8 Q-3.7-6.6 -4.6-5.9Z" fill="#1d3a52"/>
  </g>
  <g transform="translate(517 255) scale(1.07)">
    <circle r="7.8" fill="#5ab8ec" stroke="#4fa9dc" stroke-width="0.5"/>
    <path d="M-2.9-3.1 L0-1.3 L-0.4 1.8 L-3 2.8 L-5.6 0.9 L-5.2-1.6Z" fill="#15293a" stroke="#15293a" stroke-width="0.7" stroke-linejoin="round"/>
    <circle cx="-2.7" cy="0" r="1.35" fill="#5c3220"/>
    <path d="M3.2-6.2 Q4.6-6.8 5.4-6 Q7-4.7 7.5-3 L7-1.4 Q5.8-1.7 5-2.5 Q3.9-3.6 3.4-4.8Z" fill="#15293a"/>
    <path d="M6.8 2.6 L6.6 4.5 Q5.6 6.2 4.1 7 L2.4 6.5 Q3 5.1 4 4.2 Q5.2 3.1 6.8 2.6Z" fill="#15293a"/>
    <path d="M-4.8-6.3 Q-3.8-7.2 -2.4-7.5 L-2.6-6.8 Q-3.7-6.6 -4.6-5.9Z" fill="#1d3a52"/>
  </g>
  <g transform="translate(516.5 363.75) scale(1)">
    <circle r="7.8" fill="#5ab8ec" stroke="#4fa9dc" stroke-width="0.5"/>
    <path d="M-2.9-3.1 L0-1.3 L-0.4 1.8 L-3 2.8 L-5.6 0.9 L-5.2-1.6Z" fill="#15293a" stroke="#15293a" stroke-width="0.7" stroke-linejoin="round"/>
    <circle cx="-2.7" cy="0" r="1.35" fill="#5c3220"/>
    <path d="M3.2-6.2 Q4.6-6.8 5.4-6 Q7-4.7 7.5-3 L7-1.4 Q5.8-1.7 5-2.5 Q3.9-3.6 3.4-4.8Z" fill="#15293a"/>
    <path d="M6.8 2.6 L6.6 4.5 Q5.6 6.2 4.1 7 L2.4 6.5 Q3 5.1 4 4.2 Q5.2 3.1 6.8 2.6Z" fill="#15293a"/>
    <path d="M-4.8-6.3 Q-3.8-7.2 -2.4-7.5 L-2.6-6.8 Q-3.7-6.6 -4.6-5.9Z" fill="#1d3a52"/>
  </g>
  <g transform="translate(517.25 471.25) scale(1.12)">
    <circle r="7.8" fill="#5ab8ec" stroke="#4fa9dc" stroke-width="0.5"/>
    <path d="M-2.9-3.1 L0-1.3 L-0.4 1.8 L-3 2.8 L-5.6 0.9 L-5.2-1.6Z" fill="#15293a" stroke="#15293a" stroke-width="0.7" stroke-linejoin="round"/>
    <circle cx="-2.7" cy="0" r="1.35" fill="#5c3220"/>
    <path d="M3.2-6.2 Q4.6-6.8 5.4-6 Q7-4.7 7.5-3 L7-1.4 Q5.8-1.7 5-2.5 Q3.9-3.6 3.4-4.8Z" fill="#15293a"/>
    <path d="M6.8 2.6 L6.6 4.5 Q5.6 6.2 4.1 7 L2.4 6.5 Q3 5.1 4 4.2 Q5.2 3.1 6.8 2.6Z" fill="#15293a"/>
    <path d="M-4.8-6.3 Q-3.8-7.2 -2.4-7.5 L-2.6-6.8 Q-3.7-6.6 -4.6-5.9Z" fill="#1d3a52"/>
  </g>
  <g transform="translate(594 100.75) scale(1.01)">
    <circle r="7.8" fill="#5ab8ec" stroke="#4fa9dc" stroke-width="0.5"/>
    <path d="M-2.9-3.1 L0-1.3 L-0.4 1.8 L-3 2.8 L-5.6 0.9 L-5.2-1.6Z" fill="#15293a" stroke="#15293a" stroke-width="0.7" stroke-linejoin="round"/>
    <circle cx="-2.7" cy="0" r="1.35" fill="#5c3220"/>
    <path d="M3.2-6.2 Q4.6-6.8 5.4-6 Q7-4.7 7.5-3 L7-1.4 Q5.8-1.7 5-2.5 Q3.9-3.6 3.4-4.8Z" fill="#15293a"/>
    <path d="M6.8 2.6 L6.6 4.5 Q5.6 6.2 4.1 7 L2.4 6.5 Q3 5.1 4 4.2 Q5.2 3.1 6.8 2.6Z" fill="#15293a"/>
    <path d="M-4.8-6.3 Q-3.8-7.2 -2.4-7.5 L-2.6-6.8 Q-3.7-6.6 -4.6-5.9Z" fill="#1d3a52"/>
  </g>
  <g transform="translate(593.5 425.75) scale(1.1)">
    <circle r="7.8" fill="#5ab8ec" stroke="#4fa9dc" stroke-width="0.5"/>
    <path d="M-2.9-3.1 L0-1.3 L-0.4 1.8 L-3 2.8 L-5.6 0.9 L-5.2-1.6Z" fill="#15293a" stroke="#15293a" stroke-width="0.7" stroke-linejoin="round"/>
    <circle cx="-2.7" cy="0" r="1.35" fill="#5c3220"/>
    <path d="M3.2-6.2 Q4.6-6.8 5.4-6 Q7-4.7 7.5-3 L7-1.4 Q5.8-1.7 5-2.5 Q3.9-3.6 3.4-4.8Z" fill="#15293a"/>
    <path d="M6.8 2.6 L6.6 4.5 Q5.6 6.2 4.1 7 L2.4 6.5 Q3 5.1 4 4.2 Q5.2 3.1 6.8 2.6Z" fill="#15293a"/>
    <path d="M-4.8-6.3 Q-3.8-7.2 -2.4-7.5 L-2.6-6.8 Q-3.7-6.6 -4.6-5.9Z" fill="#1d3a52"/>
  </g>
  <g transform="translate(675 86.25) scale(1.02)">
    <circle r="7.8" fill="#5ab8ec" stroke="#4fa9dc" stroke-width="0.5"/>
    <path d="M-2.9-3.1 L0-1.3 L-0.4 1.8 L-3 2.8 L-5.6 0.9 L-5.2-1.6Z" fill="#15293a" stroke="#15293a" stroke-width="0.7" stroke-linejoin="round"/>
    <circle cx="-2.7" cy="0" r="1.35" fill="#5c3220"/>
    <path d="M3.2-6.2 Q4.6-6.8 5.4-6 Q7-4.7 7.5-3 L7-1.4 Q5.8-1.7 5-2.5 Q3.9-3.6 3.4-4.8Z" fill="#15293a"/>
    <path d="M6.8 2.6 L6.6 4.5 Q5.6 6.2 4.1 7 L2.4 6.5 Q3 5.1 4 4.2 Q5.2 3.1 6.8 2.6Z" fill="#15293a"/>
    <path d="M-4.8-6.3 Q-3.8-7.2 -2.4-7.5 L-2.6-6.8 Q-3.7-6.6 -4.6-5.9Z" fill="#1d3a52"/>
  </g>
  <g transform="translate(674.25 194.5) scale(1.09)">
    <circle r="7.8" fill="#5ab8ec" stroke="#4fa9dc" stroke-width="0.5"/>
    <path d="M-2.9-3.1 L0-1.3 L-0.4 1.8 L-3 2.8 L-5.6 0.9 L-5.2-1.6Z" fill="#15293a" stroke="#15293a" stroke-width="0.7" stroke-linejoin="round"/>
    <circle cx="-2.7" cy="0" r="1.35" fill="#5c3220"/>
    <path d="M3.2-6.2 Q4.6-6.8 5.4-6 Q7-4.7 7.5-3 L7-1.4 Q5.8-1.7 5-2.5 Q3.9-3.6 3.4-4.8Z" fill="#15293a"/>
    <path d="M6.8 2.6 L6.6 4.5 Q5.6 6.2 4.1 7 L2.4 6.5 Q3 5.1 4 4.2 Q5.2 3.1 6.8 2.6Z" fill="#15293a"/>
    <path d="M-4.8-6.3 Q-3.8-7.2 -2.4-7.5 L-2.6-6.8 Q-3.7-6.6 -4.6-5.9Z" fill="#1d3a52"/>
  </g>
  <g transform="translate(675.5 302) scale(1)">
    <circle r="7.8" fill="#5ab8ec" stroke="#4fa9dc" stroke-width="0.5"/>
    <path d="M-2.9-3.1 L0-1.3 L-0.4 1.8 L-3 2.8 L-5.6 0.9 L-5.2-1.6Z" fill="#15293a" stroke="#15293a" stroke-width="0.7" stroke-linejoin="round"/>
    <circle cx="-2.7" cy="0" r="1.35" fill="#5c3220"/>
    <path d="M3.2-6.2 Q4.6-6.8 5.4-6 Q7-4.7 7.5-3 L7-1.4 Q5.8-1.7 5-2.5 Q3.9-3.6 3.4-4.8Z" fill="#15293a"/>
    <path d="M6.8 2.6 L6.6 4.5 Q5.6 6.2 4.1 7 L2.4 6.5 Q3 5.1 4 4.2 Q5.2 3.1 6.8 2.6Z" fill="#15293a"/>
    <path d="M-4.8-6.3 Q-3.8-7.2 -2.4-7.5 L-2.6-6.8 Q-3.7-6.6 -4.6-5.9Z" fill="#1d3a52"/>
  </g>
  <g transform="translate(672.5 409.5) scale(1.02)">
    <circle r="7.8" fill="#5ab8ec" stroke="#4fa9dc" stroke-width="0.5"/>
    <path d="M-2.9-3.1 L0-1.3 L-0.4 1.8 L-3 2.8 L-5.6 0.9 L-5.2-1.6Z" fill="#15293a" stroke="#15293a" stroke-width="0.7" stroke-linejoin="round"/>
    <circle cx="-2.7" cy="0" r="1.35" fill="#5c3220"/>
    <path d="M3.2-6.2 Q4.6-6.8 5.4-6 Q7-4.7 7.5-3 L7-1.4 Q5.8-1.7 5-2.5 Q3.9-3.6 3.4-4.8Z" fill="#15293a"/>
    <path d="M6.8 2.6 L6.6 4.5 Q5.6 6.2 4.1 7 L2.4 6.5 Q3 5.1 4 4.2 Q5.2 3.1 6.8 2.6Z" fill="#15293a"/>
    <path d="M-4.8-6.3 Q-3.8-7.2 -2.4-7.5 L-2.6-6.8 Q-3.7-6.6 -4.6-5.9Z" fill="#1d3a52"/>
  </g>
  <g transform="translate(672.5 519) scale(1.06)">
    <circle r="7.8" fill="#5ab8ec" stroke="#4fa9dc" stroke-width="0.5"/>
    <path d="M-2.9-3.1 L0-1.3 L-0.4 1.8 L-3 2.8 L-5.6 0.9 L-5.2-1.6Z" fill="#15293a" stroke="#15293a" stroke-width="0.7" stroke-linejoin="round"/>
    <circle cx="-2.7" cy="0" r="1.35" fill="#5c3220"/>
    <path d="M3.2-6.2 Q4.6-6.8 5.4-6 Q7-4.7 7.5-3 L7-1.4 Q5.8-1.7 5-2.5 Q3.9-3.6 3.4-4.8Z" fill="#15293a"/>
    <path d="M6.8 2.6 L6.6 4.5 Q5.6 6.2 4.1 7 L2.4 6.5 Q3 5.1 4 4.2 Q5.2 3.1 6.8 2.6Z" fill="#15293a"/>
    <path d="M-4.8-6.3 Q-3.8-7.2 -2.4-7.5 L-2.6-6.8 Q-3.7-6.6 -4.6-5.9Z" fill="#1d3a52"/>
  </g>
  <g transform="translate(752.5 147.5) scale(1.06)">
    <circle r="7.8" fill="#5ab8ec" stroke="#4fa9dc" stroke-width="0.5"/>
    <path d="M-2.9-3.1 L0-1.3 L-0.4 1.8 L-3 2.8 L-5.6 0.9 L-5.2-1.6Z" fill="#15293a" stroke="#15293a" stroke-width="0.7" stroke-linejoin="round"/>
    <circle cx="-2.7" cy="0" r="1.35" fill="#5c3220"/>
    <path d="M3.2-6.2 Q4.6-6.8 5.4-6 Q7-4.7 7.5-3 L7-1.4 Q5.8-1.7 5-2.5 Q3.9-3.6 3.4-4.8Z" fill="#15293a"/>
    <path d="M6.8 2.6 L6.6 4.5 Q5.6 6.2 4.1 7 L2.4 6.5 Q3 5.1 4 4.2 Q5.2 3.1 6.8 2.6Z" fill="#15293a"/>
    <path d="M-4.8-6.3 Q-3.8-7.2 -2.4-7.5 L-2.6-6.8 Q-3.7-6.6 -4.6-5.9Z" fill="#1d3a52"/>
  </g>
  <g transform="translate(752 470.4) scale(0.99)">
    <circle r="7.8" fill="#5ab8ec" stroke="#4fa9dc" stroke-width="0.5"/>
    <path d="M-2.9-3.1 L0-1.3 L-0.4 1.8 L-3 2.8 L-5.6 0.9 L-5.2-1.6Z" fill="#15293a" stroke="#15293a" stroke-width="0.7" stroke-linejoin="round"/>
    <circle cx="-2.7" cy="0" r="1.35" fill="#5c3220"/>
    <path d="M3.2-6.2 Q4.6-6.8 5.4-6 Q7-4.7 7.5-3 L7-1.4 Q5.8-1.7 5-2.5 Q3.9-3.6 3.4-4.8Z" fill="#15293a"/>
    <path d="M6.8 2.6 L6.6 4.5 Q5.6 6.2 4.1 7 L2.4 6.5 Q3 5.1 4 4.2 Q5.2 3.1 6.8 2.6Z" fill="#15293a"/>
    <path d="M-4.8-6.3 Q-3.8-7.2 -2.4-7.5 L-2.6-6.8 Q-3.7-6.6 -4.6-5.9Z" fill="#1d3a52"/>
  </g>
  <g transform="translate(826.75 118.75) scale(1.02)">
    <circle r="7.8" fill="#5ab8ec" stroke="#4fa9dc" stroke-width="0.5"/>
    <path d="M-2.9-3.1 L0-1.3 L-0.4 1.8 L-3 2.8 L-5.6 0.9 L-5.2-1.6Z" fill="#15293a" stroke="#15293a" stroke-width="0.7" stroke-linejoin="round"/>
    <circle cx="-2.7" cy="0" r="1.35" fill="#5c3220"/>
    <path d="M3.2-6.2 Q4.6-6.8 5.4-6 Q7-4.7 7.5-3 L7-1.4 Q5.8-1.7 5-2.5 Q3.9-3.6 3.4-4.8Z" fill="#15293a"/>
    <path d="M6.8 2.6 L6.6 4.5 Q5.6 6.2 4.1 7 L2.4 6.5 Q3 5.1 4 4.2 Q5.2 3.1 6.8 2.6Z" fill="#15293a"/>
    <path d="M-4.8-6.3 Q-3.8-7.2 -2.4-7.5 L-2.6-6.8 Q-3.7-6.6 -4.6-5.9Z" fill="#1d3a52"/>
  </g>
  <g transform="translate(825 225.75) scale(1.05)">
    <circle r="7.8" fill="#5ab8ec" stroke="#4fa9dc" stroke-width="0.5"/>
    <path d="M-2.9-3.1 L0-1.3 L-0.4 1.8 L-3 2.8 L-5.6 0.9 L-5.2-1.6Z" fill="#15293a" stroke="#15293a" stroke-width="0.7" stroke-linejoin="round"/>
    <circle cx="-2.7" cy="0" r="1.35" fill="#5c3220"/>
    <path d="M3.2-6.2 Q4.6-6.8 5.4-6 Q7-4.7 7.5-3 L7-1.4 Q5.8-1.7 5-2.5 Q3.9-3.6 3.4-4.8Z" fill="#15293a"/>
    <path d="M6.8 2.6 L6.6 4.5 Q5.6 6.2 4.1 7 L2.4 6.5 Q3 5.1 4 4.2 Q5.2 3.1 6.8 2.6Z" fill="#15293a"/>
    <path d="M-4.8-6.3 Q-3.8-7.2 -2.4-7.5 L-2.6-6.8 Q-3.7-6.6 -4.6-5.9Z" fill="#1d3a52"/>
  </g>
  <g transform="translate(825 333.25) scale(1.02)">
    <circle r="7.8" fill="#5ab8ec" stroke="#4fa9dc" stroke-width="0.5"/>
    <path d="M-2.9-3.1 L0-1.3 L-0.4 1.8 L-3 2.8 L-5.6 0.9 L-5.2-1.6Z" fill="#15293a" stroke="#15293a" stroke-width="0.7" stroke-linejoin="round"/>
    <circle cx="-2.7" cy="0" r="1.35" fill="#5c3220"/>
    <path d="M3.2-6.2 Q4.6-6.8 5.4-6 Q7-4.7 7.5-3 L7-1.4 Q5.8-1.7 5-2.5 Q3.9-3.6 3.4-4.8Z" fill="#15293a"/>
    <path d="M6.8 2.6 L6.6 4.5 Q5.6 6.2 4.1 7 L2.4 6.5 Q3 5.1 4 4.2 Q5.2 3.1 6.8 2.6Z" fill="#15293a"/>
    <path d="M-4.8-6.3 Q-3.8-7.2 -2.4-7.5 L-2.6-6.8 Q-3.7-6.6 -4.6-5.9Z" fill="#1d3a52"/>
  </g>
  <g transform="translate(822.25 440.5) scale(0.94)">
    <circle r="7.8" fill="#5ab8ec" stroke="#4fa9dc" stroke-width="0.5"/>
    <path d="M-2.9-3.1 L0-1.3 L-0.4 1.8 L-3 2.8 L-5.6 0.9 L-5.2-1.6Z" fill="#15293a" stroke="#15293a" stroke-width="0.7" stroke-linejoin="round"/>
    <circle cx="-2.7" cy="0" r="1.35" fill="#5c3220"/>
    <path d="M3.2-6.2 Q4.6-6.8 5.4-6 Q7-4.7 7.5-3 L7-1.4 Q5.8-1.7 5-2.5 Q3.9-3.6 3.4-4.8Z" fill="#15293a"/>
    <path d="M6.8 2.6 L6.6 4.5 Q5.6 6.2 4.1 7 L2.4 6.5 Q3 5.1 4 4.2 Q5.2 3.1 6.8 2.6Z" fill="#15293a"/>
    <path d="M-4.8-6.3 Q-3.8-7.2 -2.4-7.5 L-2.6-6.8 Q-3.7-6.6 -4.6-5.9Z" fill="#1d3a52"/>
  </g>
  <g transform="translate(900.3 72) scale(1)">
    <circle r="7.8" fill="#5ab8ec" stroke="#4fa9dc" stroke-width="0.5"/>
    <path d="M-2.9-3.1 L0-1.3 L-0.4 1.8 L-3 2.8 L-5.6 0.9 L-5.2-1.6Z" fill="#15293a" stroke="#15293a" stroke-width="0.7" stroke-linejoin="round"/>
    <circle cx="-2.7" cy="0" r="1.35" fill="#5c3220"/>
    <path d="M3.2-6.2 Q4.6-6.8 5.4-6 Q7-4.7 7.5-3 L7-1.4 Q5.8-1.7 5-2.5 Q3.9-3.6 3.4-4.8Z" fill="#15293a"/>
    <path d="M6.8 2.6 L6.6 4.5 Q5.6 6.2 4.1 7 L2.4 6.5 Q3 5.1 4 4.2 Q5.2 3.1 6.8 2.6Z" fill="#15293a"/>
    <path d="M-4.8-6.3 Q-3.8-7.2 -2.4-7.5 L-2.6-6.8 Q-3.7-6.6 -4.6-5.9Z" fill="#1d3a52"/>
  </g>
  <g transform="translate(900.4 180.8) scale(1.12)">
    <circle r="7.8" fill="#5ab8ec" stroke="#4fa9dc" stroke-width="0.5"/>
    <path d="M-2.9-3.1 L0-1.3 L-0.4 1.8 L-3 2.8 L-5.6 0.9 L-5.2-1.6Z" fill="#15293a" stroke="#15293a" stroke-width="0.7" stroke-linejoin="round"/>
    <circle cx="-2.7" cy="0" r="1.35" fill="#5c3220"/>
    <path d="M3.2-6.2 Q4.6-6.8 5.4-6 Q7-4.7 7.5-3 L7-1.4 Q5.8-1.7 5-2.5 Q3.9-3.6 3.4-4.8Z" fill="#15293a"/>
    <path d="M6.8 2.6 L6.6 4.5 Q5.6 6.2 4.1 7 L2.4 6.5 Q3 5.1 4 4.2 Q5.2 3.1 6.8 2.6Z" fill="#15293a"/>
    <path d="M-4.8-6.3 Q-3.8-7.2 -2.4-7.5 L-2.6-6.8 Q-3.7-6.6 -4.6-5.9Z" fill="#1d3a52"/>
  </g>
  <g transform="translate(898.5 285.75) scale(1.02)">
    <circle r="7.8" fill="#5ab8ec" stroke="#4fa9dc" stroke-width="0.5"/>
    <path d="M-2.9-3.1 L0-1.3 L-0.4 1.8 L-3 2.8 L-5.6 0.9 L-5.2-1.6Z" fill="#15293a" stroke="#15293a" stroke-width="0.7" stroke-linejoin="round"/>
    <circle cx="-2.7" cy="0" r="1.35" fill="#5c3220"/>
    <path d="M3.2-6.2 Q4.6-6.8 5.4-6 Q7-4.7 7.5-3 L7-1.4 Q5.8-1.7 5-2.5 Q3.9-3.6 3.4-4.8Z" fill="#15293a"/>
    <path d="M6.8 2.6 L6.6 4.5 Q5.6 6.2 4.1 7 L2.4 6.5 Q3 5.1 4 4.2 Q5.2 3.1 6.8 2.6Z" fill="#15293a"/>
    <path d="M-4.8-6.3 Q-3.8-7.2 -2.4-7.5 L-2.6-6.8 Q-3.7-6.6 -4.6-5.9Z" fill="#1d3a52"/>
  </g>
  <g transform="translate(899 395) scale(1.04)">
    <circle r="7.8" fill="#5ab8ec" stroke="#4fa9dc" stroke-width="0.5"/>
    <path d="M-2.9-3.1 L0-1.3 L-0.4 1.8 L-3 2.8 L-5.6 0.9 L-5.2-1.6Z" fill="#15293a" stroke="#15293a" stroke-width="0.7" stroke-linejoin="round"/>
    <circle cx="-2.7" cy="0" r="1.35" fill="#5c3220"/>
    <path d="M3.2-6.2 Q4.6-6.8 5.4-6 Q7-4.7 7.5-3 L7-1.4 Q5.8-1.7 5-2.5 Q3.9-3.6 3.4-4.8Z" fill="#15293a"/>
    <path d="M6.8 2.6 L6.6 4.5 Q5.6 6.2 4.1 7 L2.4 6.5 Q3 5.1 4 4.2 Q5.2 3.1 6.8 2.6Z" fill="#15293a"/>
    <path d="M-4.8-6.3 Q-3.8-7.2 -2.4-7.5 L-2.6-6.8 Q-3.7-6.6 -4.6-5.9Z" fill="#1d3a52"/>
  </g>
  <g transform="translate(901.5 502.75) scale(1.06)">
    <circle r="7.8" fill="#5ab8ec" stroke="#4fa9dc" stroke-width="0.5"/>
    <path d="M-2.9-3.1 L0-1.3 L-0.4 1.8 L-3 2.8 L-5.6 0.9 L-5.2-1.6Z" fill="#15293a" stroke="#15293a" stroke-width="0.7" stroke-linejoin="round"/>
    <circle cx="-2.7" cy="0" r="1.35" fill="#5c3220"/>
    <path d="M3.2-6.2 Q4.6-6.8 5.4-6 Q7-4.7 7.5-3 L7-1.4 Q5.8-1.7 5-2.5 Q3.9-3.6 3.4-4.8Z" fill="#15293a"/>
    <path d="M6.8 2.6 L6.6 4.5 Q5.6 6.2 4.1 7 L2.4 6.5 Q3 5.1 4 4.2 Q5.2 3.1 6.8 2.6Z" fill="#15293a"/>
    <path d="M-4.8-6.3 Q-3.8-7.2 -2.4-7.5 L-2.6-6.8 Q-3.7-6.6 -4.6-5.9Z" fill="#1d3a52"/>
  </g>
  <g transform="translate(531.4 564.2) scale(1.29)">
    <circle r="7.8" fill="#5ab8ec" stroke="#4fa9dc" stroke-width="0.5"/>
    <path d="M-2.9-3.1 L0-1.3 L-0.4 1.8 L-3 2.8 L-5.6 0.9 L-5.2-1.6Z" fill="#15293a" stroke="#15293a" stroke-width="0.7" stroke-linejoin="round"/>
    <circle cx="-2.7" cy="0" r="1.35" fill="#5c3220"/>
    <path d="M3.2-6.2 Q4.6-6.8 5.4-6 Q7-4.7 7.5-3 L7-1.4 Q5.8-1.7 5-2.5 Q3.9-3.6 3.4-4.8Z" fill="#15293a"/>
    <path d="M6.8 2.6 L6.6 4.5 Q5.6 6.2 4.1 7 L2.4 6.5 Q3 5.1 4 4.2 Q5.2 3.1 6.8 2.6Z" fill="#15293a"/>
    <path d="M-4.8-6.3 Q-3.8-7.2 -2.4-7.5 L-2.6-6.8 Q-3.7-6.6 -4.6-5.9Z" fill="#1d3a52"/>
  </g>
 </g>
 <g class="heads" font-family="'DejaVu Sans', 'Liberation Sans', sans-serif" font-size="11.5" fill="#111" stroke="#111" stroke-width="0.22" text-anchor="middle">
  <text transform="translate(36.6 60.2) scale(0.975 1)">août-23</text>
  <text transform="translate(146 60.2) scale(0.975 1)">septembre-23</text>
  <text transform="translate(241.15 60.2) scale(0.975 1)">octobre-23</text>
  <text transform="translate(332.05 60.2) scale(0.975 1)">novembre-23</text>
  <text transform="translate(416.05 60.2) scale(0.975 1)">décembre-23</text>
  <text transform="translate(496.85 60.2) scale(0.975 1)">janvier-24</text>
  <text transform="translate(574.27 60.2) scale(0.975 1)">février-24</text>
  <text transform="translate(652.25 60.2) scale(0.975 1)">mars-24</text>
  <text transform="translate(731.65 60.2) scale(0.975 1)">avril-24</text>
  <text transform="translate(806.9 60.2) scale(0.975 1)">mai-24</text>
  <text transform="translate(880.4 60.2) scale(0.975 1)">juin-24</text>
  <text transform="translate(964.73 60.2) scale(0.975 1)">juillet-24</text>
 </g>
 <g class="days" font-family="'DejaVu Sans', 'Liberation Sans', sans-serif" font-size="9.5" fill="#111" stroke="#111" stroke-width="0.35">
  <g class="month">
   <text x="29.1" y="75.38" text-anchor="end">1</text><text x="49.2" y="75.38" text-anchor="middle">ma</text>
   <text x="29.1" y="90.77" text-anchor="end">2</text><text x="49.2" y="90.77" text-anchor="middle">me</text>
   <text x="29.1" y="106.16" text-anchor="end">3</text><text x="49.2" y="106.16" text-anchor="middle">je</text>
   <text x="29.1" y="121.54" text-anchor="end">4</text><text x="49.2" y="121.54" text-anchor="middle">ve</text>
   <text x="29.1" y="136.92" text-anchor="end">5</text><text x="49.2" y="136.92" text-anchor="middle">sa</text>
   <text x="29.1" y="152.31" text-anchor="end">6</text><text x="49.2" y="152.31" text-anchor="middle">di</text>
   <text x="29.1" y="167.69" text-anchor="end">7</text><text x="49.2" y="167.69" text-anchor="middle">lu</text>
   <text x="29.1" y="183.08" text-anchor="end">8</text><text x="49.2" y="183.08" text-anchor="middle">ma</text>
   <text x="29.1" y="198.47" text-anchor="end">9</text><text x="49.2" y="198.47" text-anchor="middle">me</text>
   <text x="29.1" y="213.85" text-anchor="end">10</text><text x="49.2" y="213.85" text-anchor="middle">je</text>
   <text x="29.1" y="229.23" text-anchor="end">11</text><text x="49.2" y="229.23" text-anchor="middle">ve</text>
   <text x="29.1" y="244.62" text-anchor="end">12</text><text x="49.2" y="244.62" text-anchor="middle">sa</text>
   <text x="29.1" y="260" text-anchor="end">13</text><text x="49.2" y="260" text-anchor="middle">di</text>
   <text x="29.1" y="275.39" text-anchor="end">14</text><text x="49.2" y="275.39" text-anchor="middle">lu</text>
   <text x="29.1" y="290.78" text-anchor="end">15</text><text x="49.2" y="290.78" text-anchor="middle">ma</text>
   <text x="29.1" y="306.16" text-anchor="end">16</text><text x="49.2" y="306.16" text-anchor="middle">me</text>
   <text x="29.1" y="321.54" text-anchor="end">17</text><text x="49.2" y="321.54" text-anchor="middle">je</text>
   <text x="29.1" y="336.93" text-anchor="end">18</text><text x="49.2" y="336.93" text-anchor="middle">ve</text>
   <text x="29.1" y="352.31" text-anchor="end">19</text><text x="49.2" y="352.31" text-anchor="middle">sa</text>
   <text x="29.1" y="367.7" text-anchor="end">20</text><text x="49.2" y="367.7" text-anchor="middle">di</text>
   <text x="29.1" y="383.08" text-anchor="end">21</text><text x="49.2" y="383.08" text-anchor="middle">lu</text>
   <text x="29.1" y="398.47" text-anchor="end">22</text><text x="49.2" y="398.47" text-anchor="middle">ma</text>
   <text x="29.1" y="413.85" text-anchor="end">23</text><text x="49.2" y="413.85" text-anchor="middle">me</text>
   <text x="29.1" y="429.24" text-anchor="end">24</text><text x="49.2" y="429.24" text-anchor="middle">je</text>
   <text x="29.1" y="444.62" text-anchor="end">25</text><text x="49.2" y="444.62" text-anchor="middle">ve</text>
   <text x="29.1" y="460.01" text-anchor="end">26</text><text x="49.2" y="460.01" text-anchor="middle">sa</text>
   <text x="29.1" y="475.39" text-anchor="end">27</text><text x="49.2" y="475.39" text-anchor="middle">di</text>
   <text x="29.1" y="490.78" text-anchor="end">28</text><text x="49.2" y="490.78" text-anchor="middle">lu</text>
   <text x="29.1" y="506.9" text-anchor="end">29</text><text x="49.2" y="506.9" text-anchor="middle">ma</text>
   <text x="29.1" y="523.4" text-anchor="end">30</text><text x="49.2" y="523.4" text-anchor="middle">me</text>
   <text x="29.1" y="539.7" text-anchor="end">31</text><text x="49.2" y="539.7" text-anchor="middle">je</text>
  </g>
  <g class="month">
   <text x="114.6" y="75.38" text-anchor="end" fill="#e8352a" stroke="#e8352a" stroke-width="0.2">1</text><text x="133.05" y="75.38" text-anchor="middle" fill="#e8352a" stroke="#e8352a" stroke-width="0.2">ve</text>
   <text x="114.6" y="90.77" text-anchor="end">2</text><text x="133.05" y="90.77" text-anchor="middle">sa</text>
   <text x="114.6" y="106.16" text-anchor="end">3</text><text x="133.05" y="106.16" text-anchor="middle">di</text>
   <text x="114.6" y="121.54" text-anchor="end" fill="#e8352a" stroke="#e8352a" stroke-width="0.2">4</text><text x="133.05" y="121.54" text-anchor="middle" fill="#e8352a" stroke="#e8352a" stroke-width="0.2">lu</text>
   <text x="114.6" y="136.92" text-anchor="end">5</text><text x="133.05" y="136.92" text-anchor="middle">ma</text>
   <text x="114.6" y="152.31" text-anchor="end">6</text><text x="133.05" y="152.31" text-anchor="middle">me</text>
   <text x="114.6" y="167.69" text-anchor="end">7</text><text x="133.05" y="167.69" text-anchor="middle">je</text>
   <text x="114.6" y="183.08" text-anchor="end">8</text><text x="133.05" y="183.08" text-anchor="middle">ve</text>
   <text x="114.6" y="198.47" text-anchor="end">9</text><text x="133.05" y="198.47" text-anchor="middle">sa</text>
   <text x="114.6" y="213.85" text-anchor="end">10</text><text x="133.05" y="213.85" text-anchor="middle">di</text>
   <text x="114.6" y="229.23" text-anchor="end">11</text><text x="133.05" y="229.23" text-anchor="middle">lu</text>
   <text x="114.6" y="244.62" text-anchor="end">12</text><text x="133.05" y="244.62" text-anchor="middle">ma</text>
   <text x="114.6" y="260" text-anchor="end">13</text><text x="133.05" y="260" text-anchor="middle">me</text>
   <text x="114.6" y="275.39" text-anchor="end">14</text><text x="133.05" y="275.39" text-anchor="middle">je</text>
   <text x="114.6" y="290.78" text-anchor="end">15</text><text x="133.05" y="290.78" text-anchor="middle">ve</text>
   <text x="114.6" y="306.16" text-anchor="end">16</text><text x="133.05" y="306.16" text-anchor="middle">sa</text>
   <text x="114.6" y="321.54" text-anchor="end">17</text><text x="133.05" y="321.54" text-anchor="middle">di</text>
   <text x="114.6" y="336.93" text-anchor="end">18</text><text x="133.05" y="336.93" text-anchor="middle">lu</text>
   <text x="114.6" y="352.31" text-anchor="end">19</text><text x="133.05" y="352.31" text-anchor="middle">ma</text>
   <text x="114.6" y="367.7" text-anchor="end">20</text><text x="133.05" y="367.7" text-anchor="middle">me</text>
   <text x="114.6" y="383.08" text-anchor="end">21</text><text x="133.05" y="383.08" text-anchor="middle">je</text>
   <text x="114.6" y="398.47" text-anchor="end">22</text><text x="133.05" y="398.47" text-anchor="middle">ve</text>
   <text x="114.6" y="413.85" text-anchor="end">23</text><text x="133.05" y="413.85" text-anchor="middle">sa</text>
   <text x="114.6" y="429.24" text-anchor="end">24</text><text x="133.05" y="429.24" text-anchor="middle">di</text>
   <text x="114.6" y="444.62" text-anchor="end">25</text><text x="133.05" y="444.62" text-anchor="middle">lu</text>
   <text x="114.6" y="460.01" text-anchor="end">26</text><text x="133.05" y="460.01" text-anchor="middle">ma</text>
   <text x="114.6" y="475.39" text-anchor="end">27</text><text x="133.05" y="475.39" text-anchor="middle">me</text>
   <text x="114.6" y="490.78" text-anchor="end">28</text><text x="133.05" y="490.78" text-anchor="middle">je</text>
   <text x="114.6" y="506.9" text-anchor="end">29</text><text x="133.05" y="506.9" text-anchor="middle">ve</text>
   <text x="114.6" y="523.4" text-anchor="end">30</text><text x="133.05" y="523.4" text-anchor="middle">sa</text>
  </g>
  <g class="month">
   <text x="214.7" y="75.38" text-anchor="end">1</text><text x="237.62" y="75.38" text-anchor="middle">di</text>
   <text x="214.7" y="90.77" text-anchor="end">2</text><text x="237.62" y="90.77" text-anchor="middle">lu</text>
   <text x="214.7" y="106.16" text-anchor="end">3</text><text x="237.62" y="106.16" text-anchor="middle">ma</text>
   <text x="214.7" y="121.54" text-anchor="end">4</text><text x="237.62" y="121.54" text-anchor="middle">me</text>
   <text x="214.7" y="136.92" text-anchor="end">5</text><text x="237.62" y="136.92" text-anchor="middle">je</text>
   <text x="214.7" y="152.31" text-anchor="end">6</text><text x="237.62" y="152.31" text-anchor="middle">ve</text>
   <text x="214.7" y="167.69" text-anchor="end">7</text><text x="237.62" y="167.69" text-anchor="middle">sa</text>
   <text x="214.7" y="183.08" text-anchor="end">8</text><text x="237.62" y="183.08" text-anchor="middle">di</text>
   <text x="214.7" y="198.47" text-anchor="end">9</text><text x="237.62" y="198.47" text-anchor="middle">lu</text>
   <text x="214.7" y="213.85" text-anchor="end">10</text><text x="237.62" y="213.85" text-anchor="middle">ma</text>
   <text x="214.7" y="229.23" text-anchor="end">11</text><text x="237.62" y="229.23" text-anchor="middle">me</text>
   <text x="214.7" y="244.62" text-anchor="end">12</text><text x="237.62" y="244.62" text-anchor="middle">je</text>
   <text x="214.7" y="260" text-anchor="end">13</text><text x="237.62" y="260" text-anchor="middle">ve</text>
   <text x="214.7" y="275.39" text-anchor="end">14</text><text x="237.62" y="275.39" text-anchor="middle">sa</text>
   <text x="214.7" y="290.78" text-anchor="end">15</text><text x="237.62" y="290.78" text-anchor="middle">di</text>
   <text x="214.7" y="306.16" text-anchor="end">16</text><text x="237.62" y="306.16" text-anchor="middle">lu</text>
   <text x="214.7" y="321.54" text-anchor="end">17</text><text x="237.62" y="321.54" text-anchor="middle">ma</text>
   <text x="214.7" y="336.93" text-anchor="end">18</text><text x="237.62" y="336.93" text-anchor="middle">me</text>
   <text x="214.7" y="352.31" text-anchor="end">19</text><text x="237.62" y="352.31" text-anchor="middle">je</text>
   <text x="214.7" y="367.7" text-anchor="end">20</text><text x="237.62" y="367.7" text-anchor="middle">ve</text>
   <text x="214.7" y="383.08" text-anchor="end">21</text><text x="237.62" y="383.08" text-anchor="middle">sa</text>
   <text x="214.7" y="398.47" text-anchor="end">22</text><text x="237.62" y="398.47" text-anchor="middle">di</text>
   <text x="214.7" y="413.85" text-anchor="end">23</text><text x="237.62" y="413.85" text-anchor="middle">lu</text>
   <text x="214.7" y="429.24" text-anchor="end">24</text><text x="237.62" y="429.24" text-anchor="middle">ma</text>
   <text x="214.7" y="444.62" text-anchor="end">25</text><text x="237.62" y="444.62" text-anchor="middle">me</text>
   <text x="214.7" y="460.01" text-anchor="end">26</text><text x="237.62" y="460.01" text-anchor="middle">je</text>
   <text x="214.7" y="475.39" text-anchor="end">27</text><text x="237.62" y="475.39" text-anchor="middle">ve</text>
   <text x="214.7" y="490.78" text-anchor="end">28</text><text x="237.62" y="490.78" text-anchor="middle">sa</text>
   <text x="214.7" y="506.9" text-anchor="end">29</text><text x="237.62" y="506.9" text-anchor="middle">di</text>
   <text x="214.7" y="523.4" text-anchor="end">30</text><text x="237.62" y="523.4" text-anchor="middle">lu</text>
   <text x="214.7" y="539.7" text-anchor="end">31</text><text x="237.62" y="539.7" text-anchor="middle">ma</text>
  </g>
  <g class="month">
   <text x="309.7" y="75.38" text-anchor="end">1</text><text x="325.38" y="75.38" text-anchor="middle">me</text>
   <text x="309.7" y="90.77" text-anchor="end">2</text><text x="325.38" y="90.77" text-anchor="middle">je</text>
   <text x="309.7" y="106.16" text-anchor="end">3</text><text x="325.38" y="106.16" text-anchor="middle">ve</text>
   <text x="309.7" y="121.54" text-anchor="end">4</text><text x="325.38" y="121.54" text-anchor="middle">sa</text>
   <text x="309.7" y="136.92" text-anchor="end">5</text><text x="325.38" y="136.92" text-anchor="middle">di</text>
   <text x="309.7" y="152.31" text-anchor="end">6</text><text x="325.38" y="152.31" text-anchor="middle">lu</text>
   <text x="309.7" y="167.69" text-anchor="end">7</text><text x="325.38" y="167.69" text-anchor="middle">ma</text>
   <text x="309.7" y="183.08" text-anchor="end">8</text><text x="325.38" y="183.08" text-anchor="middle">me</text>
   <text x="309.7" y="198.47" text-anchor="end">9</text><text x="325.38" y="198.47" text-anchor="middle">je</text>
   <text x="309.7" y="213.85" text-anchor="end">10</text><text x="325.38" y="213.85" text-anchor="middle">ve</text>
   <text x="309.7" y="229.23" text-anchor="end">11</text><text x="325.38" y="229.23" text-anchor="middle">sa</text>
   <text x="309.7" y="244.62" text-anchor="end">12</text><text x="325.38" y="244.62" text-anchor="middle">di</text>
   <text x="309.7" y="260" text-anchor="end">13</text><text x="325.38" y="260" text-anchor="middle">lu</text>
   <text x="309.7" y="275.39" text-anchor="end">14</text><text x="325.38" y="275.39" text-anchor="middle">ma</text>
   <text x="309.7" y="290.78" text-anchor="end">15</text><text x="325.38" y="290.78" text-anchor="middle">me</text>
   <text x="309.7" y="306.16" text-anchor="end">16</text><text x="325.38" y="306.16" text-anchor="middle">je</text>
   <text x="309.7" y="321.54" text-anchor="end">17</text><text x="325.38" y="321.54" text-anchor="middle">ve</text>
   <text x="309.7" y="336.93" text-anchor="end">18</text><text x="325.38" y="336.93" text-anchor="middle">sa</text>
   <text x="309.7" y="352.31" text-anchor="end">19</text><text x="325.38" y="352.31" text-anchor="middle">di</text>
   <text x="309.7" y="367.7" text-anchor="end">20</text><text x="325.38" y="367.7" text-anchor="middle">lu</text>
   <text x="309.7" y="383.08" text-anchor="end">21</text><text x="325.38" y="383.08" text-anchor="middle">ma</text>
   <text x="309.7" y="398.47" text-anchor="end">22</text><text x="325.38" y="398.47" text-anchor="middle">me</text>
   <text x="309.7" y="413.85" text-anchor="end">23</text><text x="325.38" y="413.85" text-anchor="middle">je</text>
   <text x="309.7" y="429.24" text-anchor="end">24</text><text x="325.38" y="429.24" text-anchor="middle">ve</text>
   <text x="309.7" y="444.62" text-anchor="end">25</text><text x="325.38" y="444.62" text-anchor="middle">sa</text>
   <text x="309.7" y="460.01" text-anchor="end">26</text><text x="325.38" y="460.01" text-anchor="middle">di</text>
   <text x="309.7" y="475.39" text-anchor="end">27</text><text x="325.38" y="475.39" text-anchor="middle">lu</text>
   <text x="309.7" y="490.78" text-anchor="end">28</text><text x="325.38" y="490.78" text-anchor="middle">ma</text>
   <text x="309.7" y="506.9" text-anchor="end">29</text><text x="325.38" y="506.9" text-anchor="middle">me</text>
   <text x="309.7" y="523.4" text-anchor="end">30</text><text x="325.38" y="523.4" text-anchor="middle">je</text>
  </g>
  <g class="month">
   <text x="393.2" y="75.38" text-anchor="end">1</text><text x="412.12" y="75.38" text-anchor="middle">ve</text>
   <text x="393.2" y="90.77" text-anchor="end">2</text><text x="412.12" y="90.77" text-anchor="middle">sa</text>
   <text x="393.2" y="106.16" text-anchor="end">3</text><text x="412.12" y="106.16" text-anchor="middle">di</text>
   <text x="393.2" y="121.54" text-anchor="end">4</text><text x="412.12" y="121.54" text-anchor="middle">lu</text>
   <text x="393.2" y="136.92" text-anchor="end">5</text><text x="412.12" y="136.92" text-anchor="middle">ma</text>
   <text x="393.2" y="152.31" text-anchor="end">6</text><text x="412.12" y="152.31" text-anchor="middle">me</text>
   <text x="393.2" y="167.69" text-anchor="end">7</text><text x="412.12" y="167.69" text-anchor="middle">je</text>
   <text x="393.2" y="183.08" text-anchor="end">8</text><text x="412.12" y="183.08" text-anchor="middle">ve</text>
   <text x="393.2" y="198.47" text-anchor="end">9</text><text x="412.12" y="198.47" text-anchor="middle">sa</text>
   <text x="393.2" y="213.85" text-anchor="end">10</text><text x="412.12" y="213.85" text-anchor="middle">di</text>
   <text x="393.2" y="229.23" text-anchor="end">11</text><text x="412.12" y="229.23" text-anchor="middle">lu</text>
   <text x="393.2" y="244.62" text-anchor="end">12</text><text x="412.12" y="244.62" text-anchor="middle">ma</text>
   <text x="393.2" y="260" text-anchor="end">13</text><text x="412.12" y="260" text-anchor="middle">me</text>
   <text x="393.2" y="275.39" text-anchor="end">14</text><text x="412.12" y="275.39" text-anchor="middle">je</text>
   <text x="393.2" y="290.78" text-anchor="end">15</text><text x="412.12" y="290.78" text-anchor="middle">ve</text>
   <text x="393.2" y="306.16" text-anchor="end">16</text><text x="412.12" y="306.16" text-anchor="middle">sa</text>
   <text x="393.2" y="321.54" text-anchor="end">17</text><text x="412.12" y="321.54" text-anchor="middle">di</text>
   <text x="393.2" y="336.93" text-anchor="end">18</text><text x="412.12" y="336.93" text-anchor="middle">lu</text>
   <text x="393.2" y="352.31" text-anchor="end">19</text><text x="412.12" y="352.31" text-anchor="middle">ma</text>
   <text x="393.2" y="367.7" text-anchor="end">20</text><text x="412.12" y="367.7" text-anchor="middle">me</text>
   <text x="393.2" y="383.08" text-anchor="end">21</text><text x="412.12" y="383.08" text-anchor="middle">je</text>
   <text x="393.2" y="398.47" text-anchor="end">22</text><text x="412.12" y="398.47" text-anchor="middle">ve</text>
   <text x="393.2" y="413.85" text-anchor="end">23</text><text x="412.12" y="413.85" text-anchor="middle">sa</text>
   <text x="393.2" y="429.24" text-anchor="end">24</text><text x="412.12" y="429.24" text-anchor="middle">di</text>
   <text x="393.2" y="444.62" text-anchor="end">25</text><text x="412.12" y="444.62" text-anchor="middle">lu</text>
   <text x="393.2" y="460.01" text-anchor="end">26</text><text x="412.12" y="460.01" text-anchor="middle">ma</text>
   <text x="393.2" y="475.39" text-anchor="end">27</text><text x="412.12" y="475.39" text-anchor="middle">me</text>
   <text x="393.2" y="490.78" text-anchor="end">28</text><text x="412.12" y="490.78" text-anchor="middle">je</text>
   <text x="393.2" y="506.9" text-anchor="end">29</text><text x="412.12" y="506.9" text-anchor="middle">ve</text>
   <text x="393.2" y="523.4" text-anchor="end">30</text><text x="412.12" y="523.4" text-anchor="middle">sa</text>
   <text x="393.2" y="539.7" text-anchor="end">31</text><text x="412.12" y="539.7" text-anchor="middle">di</text>
  </g>
  <g class="month">
   <text x="475.4" y="75.38" text-anchor="end" fill="#e8352a" stroke="#e8352a" stroke-width="0.2">1</text><text x="490.98" y="75.38" text-anchor="middle" fill="#e8352a" stroke="#e8352a" stroke-width="0.2">lu</text>
   <text x="475.4" y="90.77" text-anchor="end">2</text><text x="490.98" y="90.77" text-anchor="middle">ma</text>
   <text x="475.4" y="106.16" text-anchor="end">3</text><text x="490.98" y="106.16" text-anchor="middle">me</text>
   <text x="475.4" y="121.54" text-anchor="end">4</text><text x="490.98" y="121.54" text-anchor="middle">je</text>
   <text x="475.4" y="136.92" text-anchor="end">5</text><text x="490.98" y="136.92" text-anchor="middle">ve</text>
   <text x="475.4" y="152.31" text-anchor="end">6</text><text x="490.98" y="152.31" text-anchor="middle">sa</text>
   <text x="475.4" y="167.69" text-anchor="end">7</text><text x="490.98" y="167.69" text-anchor="middle">di</text>
   <text x="475.4" y="183.08" text-anchor="end">8</text><text x="490.98" y="183.08" text-anchor="middle">lu</text>
   <text x="475.4" y="198.47" text-anchor="end">9</text><text x="490.98" y="198.47" text-anchor="middle">ma</text>
   <text x="475.4" y="213.85" text-anchor="end">10</text><text x="490.98" y="213.85" text-anchor="middle">me</text>
   <text x="475.4" y="229.23" text-anchor="end">11</text><text x="490.98" y="229.23" text-anchor="middle">je</text>
   <text x="475.4" y="244.62" text-anchor="end">12</text><text x="490.98" y="244.62" text-anchor="middle">ve</text>
   <text x="475.4" y="260" text-anchor="end">13</text><text x="490.98" y="260" text-anchor="middle">sa</text>
   <text x="475.4" y="275.39" text-anchor="end">14</text><text x="490.98" y="275.39" text-anchor="middle">di</text>
   <text x="475.4" y="290.78" text-anchor="end">15</text><text x="490.98" y="290.78" text-anchor="middle">lu</text>
   <text x="475.4" y="306.16" text-anchor="end">16</text><text x="490.98" y="306.16" text-anchor="middle">ma</text>
   <text x="475.4" y="321.54" text-anchor="end">17</text><text x="490.98" y="321.54" text-anchor="middle">me</text>
   <text x="475.4" y="336.93" text-anchor="end">18</text><text x="490.98" y="336.93" text-anchor="middle">je</text>
   <text x="475.4" y="352.31" text-anchor="end">19</text><text x="490.98" y="352.31" text-anchor="middle">ve</text>
   <text x="475.4" y="367.7" text-anchor="end">20</text><text x="490.98" y="367.7" text-anchor="middle">sa</text>
   <text x="475.4" y="383.08" text-anchor="end">21</text><text x="490.98" y="383.08" text-anchor="middle">di</text>
   <text x="475.4" y="398.47" text-anchor="end">22</text><text x="490.98" y="398.47" text-anchor="middle">lu</text>
   <text x="475.4" y="413.85" text-anchor="end">23</text><text x="490.98" y="413.85" text-anchor="middle">ma</text>
   <text x="475.4" y="429.24" text-anchor="end">24</text><text x="490.98" y="429.24" text-anchor="middle">me</text>
   <text x="475.4" y="444.62" text-anchor="end">25</text><text x="490.98" y="444.62" text-anchor="middle">je</text>
   <text x="475.4" y="460.01" text-anchor="end">26</text><text x="490.98" y="460.01" text-anchor="middle">ve</text>
   <text x="475.4" y="475.39" text-anchor="end">27</text><text x="490.98" y="475.39" text-anchor="middle">sa</text>
   <text x="475.4" y="490.78" text-anchor="end">28</text><text x="490.98" y="490.78" text-anchor="middle">di</text>
   <text x="475.4" y="506.9" text-anchor="end">29</text><text x="490.98" y="506.9" text-anchor="middle">lu</text>
   <text x="475.4" y="523.4" text-anchor="end">30</text><text x="490.98" y="523.4" text-anchor="middle">ma</text>
   <text x="475.4" y="539.7" text-anchor="end">31</text><text x="490.98" y="539.7" text-anchor="middle">me</text>
  </g>
  <g class="month">
   <text x="552.2" y="75.38" text-anchor="end">1</text><text x="567.62" y="75.38" text-anchor="middle">je</text>
   <text x="552.2" y="90.77" text-anchor="end">2</text><text x="567.62" y="90.77" text-anchor="middle">ve</text>
   <text x="552.2" y="106.16" text-anchor="end">3</text><text x="567.62" y="106.16" text-anchor="middle">sa</text>
   <text x="552.2" y="121.54" text-anchor="end">4</text><text x="567.62" y="121.54" text-anchor="middle">di</text>
   <text x="552.2" y="136.92" text-anchor="end">5</text><text x="567.62" y="136.92" text-anchor="middle">lu</text>
   <text x="552.2" y="152.31" text-anchor="end">6</text><text x="567.62" y="152.31" text-anchor="middle">ma</text>
   <text x="552.2" y="167.69" text-anchor="end">7</text><text x="567.62" y="167.69" text-anchor="middle">me</text>
   <text x="552.2" y="183.08" text-anchor="end">8</text><text x="567.62" y="183.08" text-anchor="middle">je</text>
   <text x="552.2" y="198.47" text-anchor="end">9</text><text x="567.62" y="198.47" text-anchor="middle">ve</text>
   <text x="552.2" y="213.85" text-anchor="end" fill="#e8352a" stroke="#e8352a" stroke-width="0.2">10</text><text x="567.62" y="213.85" text-anchor="middle" fill="#e8352a" stroke="#e8352a" stroke-width="0.2">sa</text>
   <text x="552.2" y="229.23" text-anchor="end">11</text><text x="567.62" y="229.23" text-anchor="middle">di</text>
   <text x="552.2" y="244.62" text-anchor="end" fill="#e8352a" stroke="#e8352a" stroke-width="0.2">12</text><text x="567.62" y="244.62" text-anchor="middle" fill="#e8352a" stroke="#e8352a" stroke-width="0.2">lu</text>
   <text x="552.2" y="260" text-anchor="end" fill="#e8352a" stroke="#e8352a" stroke-width="0.2">13</text><text x="567.62" y="260" text-anchor="middle" fill="#e8352a" stroke="#e8352a" stroke-width="0.2">ma</text>
   <text x="552.2" y="275.39" text-anchor="end" fill="#e8352a" stroke="#e8352a" stroke-width="0.2">14</text><text x="567.62" y="275.39" text-anchor="middle" fill="#e8352a" stroke="#e8352a" stroke-width="0.2">me</text>
   <text x="552.2" y="290.78" text-anchor="end" fill="#e8352a" stroke="#e8352a" stroke-width="0.2">15</text><text x="567.62" y="290.78" text-anchor="middle" fill="#e8352a" stroke="#e8352a" stroke-width="0.2">je</text>
   <text x="552.2" y="306.16" text-anchor="end" fill="#e8352a" stroke="#e8352a" stroke-width="0.2">16</text><text x="567.62" y="306.16" text-anchor="middle" fill="#e8352a" stroke="#e8352a" stroke-width="0.2">ve</text>
   <text x="552.2" y="321.54" text-anchor="end">17</text><text x="567.62" y="321.54" text-anchor="middle">sa</text>
   <text x="552.2" y="336.93" text-anchor="end">18</text><text x="567.62" y="336.93" text-anchor="middle">di</text>
   <text x="552.2" y="352.31" text-anchor="end">19</text><text x="567.62" y="352.31" text-anchor="middle">lu</text>
   <text x="552.2" y="367.7" text-anchor="end">20</text><text x="567.62" y="367.7" text-anchor="middle">ma</text>
   <text x="552.2" y="383.08" text-anchor="end">21</text><text x="567.62" y="383.08" text-anchor="middle">me</text>
   <text x="552.2" y="398.47" text-anchor="end">22</text><text x="567.62" y="398.47" text-anchor="middle">je</text>
   <text x="552.2" y="413.85" text-anchor="end">23</text><text x="567.62" y="413.85" text-anchor="middle">ve</text>
   <text x="552.2" y="429.24" text-anchor="end">24</text><text x="567.62" y="429.24" text-anchor="middle">sa</text>
   <text x="552.2" y="444.62" text-anchor="end">25</text><text x="567.62" y="444.62" text-anchor="middle">di</text>
   <text x="552.2" y="460.01" text-anchor="end">26</text><text x="567.62" y="460.01" text-anchor="middle">lu</text>
   <text x="552.2" y="475.39" text-anchor="end">27</text><text x="567.62" y="475.39" text-anchor="middle">ma</text>
   <text x="552.2" y="490.78" text-anchor="end">28</text><text x="567.62" y="490.78" text-anchor="middle">me</text>
   <text x="552.2" y="506.9" text-anchor="end">29</text><text x="567.62" y="506.9" text-anchor="middle">je</text>
  </g>
  <g class="month">
   <text x="628.8" y="75.38" text-anchor="end">1</text><text x="647.3" y="75.38" text-anchor="middle">ve</text>
   <text x="628.8" y="90.77" text-anchor="end">2</text><text x="647.3" y="90.77" text-anchor="middle">sa</text>
   <text x="628.8" y="106.16" text-anchor="end">3</text><text x="647.3" y="106.16" text-anchor="middle">di</text>
   <text x="628.8" y="121.54" text-anchor="end">4</text><text x="647.3" y="121.54" text-anchor="middle">lu</text>
   <text x="628.8" y="136.92" text-anchor="end">5</text><text x="647.3" y="136.92" text-anchor="middle">ma</text>
   <text x="628.8" y="152.31" text-anchor="end">6</text><text x="647.3" y="152.31" text-anchor="middle">me</text>
   <text x="628.8" y="167.69" text-anchor="end">7</text><text x="647.3" y="167.69" text-anchor="middle">je</text>
   <text x="628.8" y="183.08" text-anchor="end">8</text><text x="647.3" y="183.08" text-anchor="middle">ve</text>
   <text x="628.8" y="198.47" text-anchor="end">9</text><text x="647.3" y="198.47" text-anchor="middle">sa</text>
   <text x="628.8" y="213.85" text-anchor="end">10</text><text x="647.3" y="213.85" text-anchor="middle">di</text>
   <text x="628.8" y="229.23" text-anchor="end">11</text><text x="647.3" y="229.23" text-anchor="middle">lu</text>
   <text x="628.8" y="244.62" text-anchor="end">12</text><text x="647.3" y="244.62" text-anchor="middle">ma</text>
   <text x="628.8" y="260" text-anchor="end">13</text><text x="647.3" y="260" text-anchor="middle">me</text>
   <text x="628.8" y="275.39" text-anchor="end">14</text><text x="647.3" y="275.39" text-anchor="middle">je</text>
   <text x="628.8" y="290.78" text-anchor="end">15</text><text x="647.3" y="290.78" text-anchor="middle">ve</text>
   <text x="628.8" y="306.16" text-anchor="end">16</text><text x="647.3" y="306.16" text-anchor="middle">sa</text>
   <text x="628.8" y="321.54" text-anchor="end">17</text><text x="647.3" y="321.54" text-anchor="middle">di</text>
   <text x="628.8" y="336.93" text-anchor="end">18</text><text x="647.3" y="336.93" text-anchor="middle">lu</text>
   <text x="628.8" y="352.31" text-anchor="end">19</text><text x="647.3" y="352.31" text-anchor="middle">ma</text>
   <text x="628.8" y="367.7" text-anchor="end">20</text><text x="647.3" y="367.7" text-anchor="middle">me</text>
   <text x="628.8" y="383.08" text-anchor="end">21</text><text x="647.3" y="383.08" text-anchor="middle">je</text>
   <text x="628.8" y="398.47" text-anchor="end">22</text><text x="647.3" y="398.47" text-anchor="middle">ve</text>
   <text x="628.8" y="413.85" text-anchor="end">23</text><text x="647.3" y="413.85" text-anchor="middle">sa</text>
   <text x="628.8" y="429.24" text-anchor="end">24</text><text x="647.3" y="429.24" text-anchor="middle">di</text>
   <text x="628.8" y="444.62" text-anchor="end">25</text><text x="647.3" y="444.62" text-anchor="middle">lu</text>
   <text x="628.8" y="460.01" text-anchor="end">26</text><text x="647.3" y="460.01" text-anchor="middle">ma</text>
   <text x="628.8" y="475.39" text-anchor="end">27</text><text x="647.3" y="475.39" text-anchor="middle">me</text>
   <text x="628.8" y="490.78" text-anchor="end">28</text><text x="647.3" y="490.78" text-anchor="middle">je</text>
   <text x="628.8" y="506.9" text-anchor="end">29</text><text x="647.3" y="506.9" text-anchor="middle">ve</text>
   <text x="628.8" y="523.4" text-anchor="end">30</text><text x="647.3" y="523.4" text-anchor="middle">sa</text>
   <text x="628.8" y="539.7" text-anchor="end">31</text><text x="647.3" y="539.7" text-anchor="middle">di</text>
  </g>
  <g class="month">
   <text x="711.2" y="75.38" text-anchor="end">1</text><text x="727.62" y="75.38" text-anchor="middle">lu</text>
   <text x="711.2" y="90.77" text-anchor="end">2</text><text x="727.62" y="90.77" text-anchor="middle">ma</text>
   <text x="711.2" y="106.16" text-anchor="end">3</text><text x="727.62" y="106.16" text-anchor="middle">me</text>
   <text x="711.2" y="121.54" text-anchor="end">4</text><text x="727.62" y="121.54" text-anchor="middle">je</text>
   <text x="711.2" y="136.92" text-anchor="end">5</text><text x="727.62" y="136.92" text-anchor="middle">ve</text>
   <text x="711.2" y="152.31" text-anchor="end">6</text><text x="727.62" y="152.31" text-anchor="middle">sa</text>
   <text x="711.2" y="167.69" text-anchor="end">7</text><text x="727.62" y="167.69" text-anchor="middle">di</text>
   <text x="711.2" y="183.08" text-anchor="end">8</text><text x="727.62" y="183.08" text-anchor="middle">lu</text>
   <text x="711.2" y="198.47" text-anchor="end">9</text><text x="727.62" y="198.47" text-anchor="middle">ma</text>
   <text x="711.2" y="213.85" text-anchor="end">10</text><text x="727.62" y="213.85" text-anchor="middle">me</text>
   <text x="711.2" y="229.23" text-anchor="end">11</text><text x="727.62" y="229.23" text-anchor="middle">je</text>
   <text x="711.2" y="244.62" text-anchor="end">12</text><text x="727.62" y="244.62" text-anchor="middle">ve</text>
   <text x="711.2" y="260" text-anchor="end">13</text><text x="727.62" y="260" text-anchor="middle">sa</text>
   <text x="711.2" y="275.39" text-anchor="end">14</text><text x="727.62" y="275.39" text-anchor="middle">di</text>
   <text x="711.2" y="290.78" text-anchor="end">15</text><text x="727.62" y="290.78" text-anchor="middle">lu</text>
   <text x="711.2" y="306.16" text-anchor="end">16</text><text x="727.62" y="306.16" text-anchor="middle">ma</text>
   <text x="711.2" y="321.54" text-anchor="end">17</text><text x="727.62" y="321.54" text-anchor="middle">me</text>
   <text x="711.2" y="336.93" text-anchor="end" fill="#e8352a" stroke="#e8352a" stroke-width="0.2">18</text><text x="727.62" y="336.93" text-anchor="middle" fill="#e8352a" stroke="#e8352a" stroke-width="0.2">je</text>
   <text x="711.2" y="352.31" text-anchor="end">19</text><text x="727.62" y="352.31" text-anchor="middle">ve</text>
   <text x="711.2" y="367.7" text-anchor="end">20</text><text x="727.62" y="367.7" text-anchor="middle">sa</text>
   <text x="711.2" y="383.08" text-anchor="end">21</text><text x="727.62" y="383.08" text-anchor="middle">di</text>
   <text x="711.2" y="398.47" text-anchor="end">22</text><text x="727.62" y="398.47" text-anchor="middle">lu</text>
   <text x="711.2" y="413.85" text-anchor="end">23</text><text x="727.62" y="413.85" text-anchor="middle">ma</text>
   <text x="711.2" y="429.24" text-anchor="end">24</text><text x="727.62" y="429.24" text-anchor="middle">me</text>
   <text x="711.2" y="444.62" text-anchor="end">25</text><text x="727.62" y="444.62" text-anchor="middle">je</text>
   <text x="711.2" y="460.01" text-anchor="end">26</text><text x="727.62" y="460.01" text-anchor="middle">ve</text>
   <text x="711.2" y="475.39" text-anchor="end">27</text><text x="727.62" y="475.39" text-anchor="middle">sa</text>
   <text x="711.2" y="490.78" text-anchor="end">28</text><text x="727.62" y="490.78" text-anchor="middle">di</text>
   <text x="711.2" y="506.9" text-anchor="end">29</text><text x="727.62" y="506.9" text-anchor="middle">lu</text>
   <text x="711.2" y="523.4" text-anchor="end" fill="#e8352a" stroke="#e8352a" stroke-width="0.2">30</text><text x="727.62" y="523.4" text-anchor="middle" fill="#e8352a" stroke="#e8352a" stroke-width="0.2">ma</text>
  </g>
  <g class="month">
   <text x="790.6" y="75.38" text-anchor="end" fill="#e8352a" stroke="#e8352a" stroke-width="0.2">1</text><text x="803.08" y="75.38" text-anchor="middle" fill="#e8352a" stroke="#e8352a" stroke-width="0.2">me</text>
   <text x="790.6" y="90.77" text-anchor="end">2</text><text x="803.08" y="90.77" text-anchor="middle">je</text>
   <text x="790.6" y="106.16" text-anchor="end">3</text><text x="803.08" y="106.16" text-anchor="middle">ve</text>
   <text x="790.6" y="121.54" text-anchor="end">4</text><text x="803.08" y="121.54" text-anchor="middle">sa</text>
   <text x="790.6" y="136.92" text-anchor="end">5</text><text x="803.08" y="136.92" text-anchor="middle">di</text>
   <text x="790.6" y="152.31" text-anchor="end">6</text><text x="803.08" y="152.31" text-anchor="middle">lu</text>
   <text x="790.6" y="167.69" text-anchor="end">7</text><text x="803.08" y="167.69" text-anchor="middle">ma</text>
   <text x="790.6" y="183.08" text-anchor="end">8</text><text x="803.08" y="183.08" text-anchor="middle">me</text>
   <text x="790.6" y="198.47" text-anchor="end">9</text><text x="803.08" y="198.47" text-anchor="middle">je</text>
   <text x="790.6" y="213.85" text-anchor="end">10</text><text x="803.08" y="213.85" text-anchor="middle">ve</text>
   <text x="790.6" y="229.23" text-anchor="end">11</text><text x="803.08" y="229.23" text-anchor="middle">sa</text>
   <text x="790.6" y="244.62" text-anchor="end">12</text><text x="803.08" y="244.62" text-anchor="middle">di</text>
   <text x="790.6" y="260" text-anchor="end">13</text><text x="803.08" y="260" text-anchor="middle">lu</text>
   <text x="790.6" y="275.39" text-anchor="end">14</text><text x="803.08" y="275.39" text-anchor="middle">ma</text>
   <text x="790.6" y="290.78" text-anchor="end">15</text><text x="803.08" y="290.78" text-anchor="middle">me</text>
   <text x="790.6" y="306.16" text-anchor="end">16</text><text x="803.08" y="306.16" text-anchor="middle">je</text>
   <text x="790.6" y="321.54" text-anchor="end">17</text><text x="803.08" y="321.54" text-anchor="middle">ve</text>
   <text x="790.6" y="336.93" text-anchor="end">18</text><text x="803.08" y="336.93" text-anchor="middle">sa</text>
   <text x="790.6" y="352.31" text-anchor="end">19</text><text x="803.08" y="352.31" text-anchor="middle">di</text>
   <text x="790.6" y="367.7" text-anchor="end">20</text><text x="803.08" y="367.7" text-anchor="middle">lu</text>
   <text x="790.6" y="383.08" text-anchor="end">21</text><text x="803.08" y="383.08" text-anchor="middle">ma</text>
   <text x="790.6" y="398.47" text-anchor="end">22</text><text x="803.08" y="398.47" text-anchor="middle">me</text>
   <text x="790.6" y="413.85" text-anchor="end">23</text><text x="803.08" y="413.85" text-anchor="middle">je</text>
   <text x="790.6" y="429.24" text-anchor="end">24</text><text x="803.08" y="429.24" text-anchor="middle">ve</text>
   <text x="790.6" y="444.62" text-anchor="end">25</text><text x="803.08" y="444.62" text-anchor="middle">sa</text>
   <text x="790.6" y="460.01" text-anchor="end">26</text><text x="803.08" y="460.01" text-anchor="middle">di</text>
   <text x="790.6" y="475.39" text-anchor="end">27</text><text x="803.08" y="475.39" text-anchor="middle">lu</text>
   <text x="790.6" y="490.78" text-anchor="end">28</text><text x="803.08" y="490.78" text-anchor="middle">ma</text>
   <text x="790.6" y="506.9" text-anchor="end">29</text><text x="803.08" y="506.9" text-anchor="middle">me</text>
   <text x="790.6" y="523.4" text-anchor="end">30</text><text x="803.08" y="523.4" text-anchor="middle">je</text>
   <text x="790.6" y="539.7" text-anchor="end">31</text><text x="803.08" y="539.7" text-anchor="middle">ve</text>
  </g>
  <g class="month">
   <text x="861.8" y="75.38" text-anchor="end">1</text><text x="875.92" y="75.38" text-anchor="middle">sa</text>
   <text x="861.8" y="90.77" text-anchor="end">2</text><text x="875.92" y="90.77" text-anchor="middle">di</text>
   <text x="861.8" y="106.16" text-anchor="end">3</text><text x="875.92" y="106.16" text-anchor="middle">lu</text>
   <text x="861.8" y="121.54" text-anchor="end">4</text><text x="875.92" y="121.54" text-anchor="middle">ma</text>
   <text x="861.8" y="136.92" text-anchor="end">5</text><text x="875.92" y="136.92" text-anchor="middle">me</text>
   <text x="861.8" y="152.31" text-anchor="end">6</text><text x="875.92" y="152.31" text-anchor="middle">je</text>
   <text x="861.8" y="167.69" text-anchor="end">7</text><text x="875.92" y="167.69" text-anchor="middle">ve</text>
   <text x="861.8" y="183.08" text-anchor="end">8</text><text x="875.92" y="183.08" text-anchor="middle">sa</text>
   <text x="861.8" y="198.47" text-anchor="end">9</text><text x="875.92" y="198.47" text-anchor="middle">di</text>
   <text x="861.8" y="213.85" text-anchor="end">10</text><text x="875.92" y="213.85" text-anchor="middle">lu</text>
   <text x="861.8" y="229.23" text-anchor="end">11</text><text x="875.92" y="229.23" text-anchor="middle">ma</text>
   <text x="861.8" y="244.62" text-anchor="end">12</text><text x="875.92" y="244.62" text-anchor="middle">me</text>
   <text x="861.8" y="260" text-anchor="end">13</text><text x="875.92" y="260" text-anchor="middle">je</text>
   <text x="861.8" y="275.39" text-anchor="end">14</text><text x="875.92" y="275.39" text-anchor="middle">ve</text>
   <text x="861.8" y="290.78" text-anchor="end">15</text><text x="875.92" y="290.78" text-anchor="middle">sa</text>
   <text x="861.8" y="306.16" text-anchor="end">16</text><text x="875.92" y="306.16" text-anchor="middle">di</text>
   <text x="861.8" y="321.54" text-anchor="end">17</text><text x="875.92" y="321.54" text-anchor="middle">lu</text>
   <text x="861.8" y="336.93" text-anchor="end">18</text><text x="875.92" y="336.93" text-anchor="middle">ma</text>
   <text x="861.8" y="352.31" text-anchor="end">19</text><text x="875.92" y="352.31" text-anchor="middle">me</text>
   <text x="861.8" y="367.7" text-anchor="end">20</text><text x="875.92" y="367.7" text-anchor="middle">je</text>
   <text x="861.8" y="383.08" text-anchor="end">21</text><text x="875.92" y="383.08" text-anchor="middle">ve</text>
   <text x="861.8" y="398.47" text-anchor="end">22</text><text x="875.92" y="398.47" text-anchor="middle">sa</text>
   <text x="861.8" y="413.85" text-anchor="end">23</text><text x="875.92" y="413.85" text-anchor="middle">di</text>
   <text x="861.8" y="429.24" text-anchor="end">24</text><text x="875.92" y="429.24" text-anchor="middle">lu</text>
   <text x="861.8" y="444.62" text-anchor="end">25</text><text x="875.92" y="444.62" text-anchor="middle">ma</text>
   <text x="861.8" y="460.01" text-anchor="end">26</text><text x="875.92" y="460.01" text-anchor="middle">me</text>
   <text x="861.8" y="475.39" text-anchor="end">27</text><text x="875.92" y="475.39" text-anchor="middle">je</text>
   <text x="861.8" y="490.78" text-anchor="end">28</text><text x="875.92" y="490.78" text-anchor="middle">ve</text>
   <text x="861.8" y="506.9" text-anchor="end">29</text><text x="875.92" y="506.9" text-anchor="middle">sa</text>
   <text x="861.8" y="523.4" text-anchor="end">30</text><text x="875.92" y="523.4" text-anchor="middle">di</text>
  </g>
  <g class="month">
   <text x="947.2" y="75.38" text-anchor="end">1</text><text x="966" y="75.38" text-anchor="middle">lu</text>
   <text x="947.2" y="90.77" text-anchor="end">2</text><text x="966" y="90.77" text-anchor="middle">ma</text>
   <text x="947.2" y="106.16" text-anchor="end">3</text><text x="966" y="106.16" text-anchor="middle">me</text>
   <text x="947.2" y="121.54" text-anchor="end">4</text><text x="966" y="121.54" text-anchor="middle">je</text>
   <text x="947.2" y="136.92" text-anchor="end">5</text><text x="966" y="136.92" text-anchor="middle">ve</text>
   <text x="947.2" y="152.31" text-anchor="end">6</text><text x="966" y="152.31" text-anchor="middle">sa</text>
   <text x="947.2" y="167.69" text-anchor="end">7</text><text x="966" y="167.69" text-anchor="middle">di</text>
   <text x="947.2" y="183.08" text-anchor="end">8</text><text x="966" y="183.08" text-anchor="middle">lu</text>
   <text x="947.2" y="198.47" text-anchor="end">9</text><text x="966" y="198.47" text-anchor="middle">ma</text>
   <text x="947.2" y="213.85" text-anchor="end">10</text><text x="966" y="213.85" text-anchor="middle">me</text>
   <text x="947.2" y="229.23" text-anchor="end">11</text><text x="966" y="229.23" text-anchor="middle">je</text>
   <text x="947.2" y="244.62" text-anchor="end">12</text><text x="966" y="244.62" text-anchor="middle">ve</text>
   <text x="947.2" y="260" text-anchor="end">13</text><text x="966" y="260" text-anchor="middle">sa</text>
   <text x="947.2" y="275.39" text-anchor="end">14</text><text x="966" y="275.39" text-anchor="middle">di</text>
   <text x="947.2" y="290.78" text-anchor="end">15</text><text x="966" y="290.78" text-anchor="middle">lu</text>
   <text x="947.2" y="306.16" text-anchor="end">16</text><text x="966" y="306.16" text-anchor="middle">ma</text>
   <text x="947.2" y="321.54" text-anchor="end">17</text><text x="966" y="321.54" text-anchor="middle">me</text>
   <text x="947.2" y="336.93" text-anchor="end">18</text><text x="966" y="336.93" text-anchor="middle">je</text>
   <text x="947.2" y="352.31" text-anchor="end">19</text><text x="966" y="352.31" text-anchor="middle">ve</text>
   <text x="947.2" y="367.7" text-anchor="end">20</text><text x="966" y="367.7" text-anchor="middle">sa</text>
   <text x="947.2" y="383.08" text-anchor="end">21</text><text x="966" y="383.08" text-anchor="middle">di</text>
   <text x="947.2" y="398.47" text-anchor="end">22</text><text x="966" y="398.47" text-anchor="middle">lu</text>
   <text x="947.2" y="413.85" text-anchor="end">23</text><text x="966" y="413.85" text-anchor="middle">ma</text>
   <text x="947.2" y="429.24" text-anchor="end">24</text><text x="966" y="429.24" text-anchor="middle">me</text>
   <text x="947.2" y="444.62" text-anchor="end">25</text><text x="966" y="444.62" text-anchor="middle">je</text>
   <text x="947.2" y="460.01" text-anchor="end">26</text><text x="966" y="460.01" text-anchor="middle">ve</text>
   <text x="947.2" y="475.39" text-anchor="end">27</text><text x="966" y="475.39" text-anchor="middle">sa</text>
   <text x="947.2" y="490.78" text-anchor="end">28</text><text x="966" y="490.78" text-anchor="middle">di</text>
   <text x="947.2" y="506.9" text-anchor="end">29</text><text x="966" y="506.9" text-anchor="middle">lu</text>
   <text x="947.2" y="523.4" text-anchor="end">30</text><text x="966" y="523.4" text-anchor="middle">ma</text>
   <text x="947.2" y="539.7" text-anchor="end">31</text><text x="966" y="539.7" text-anchor="middle">me</text>
  </g>
 </g>
 <text x="170.6" y="137.2" text-anchor="middle" font-family="'DejaVu Sans', sans-serif" font-weight="bold" font-size="9.1" fill="#0b1206" stroke="#0b1206" stroke-width="0.3">PR</text>
 <text x="552.6" y="570.1" textLength="31.4" lengthAdjust="spacingAndGlyphs" font-family="'DejaVu Sans Condensed', 'DejaVu Sans', sans-serif" font-weight="bold" font-size="12.6" fill="#1a1a1a">FOOT</text>
</svg>
<h1 class="title t1">CALENDRIER SCOLAIRE</h1>
<div class="title t2">2023-2024</div>
<ul class="legend">
 <li style="left:32px;top:555.4px"><span class="sw" style="left:0;width:33.7px;background:#f9e08c"></span><span class="lb" style="left:36.2px">Cours</span></li>
 <li style="left:217px;top:555.4px"><span class="sw" style="left:0;width:40.5px;background:#7a9247"></span><span class="lb" style="left:42.6px">Vacances</span></li>
 <li style="left:395.7px;top:555.4px"><span class="sw" style="left:0;width:32px;background:#dd7228"></span><span class="lb" style="left:33.9px">Jours fériés</span></li>
</ul>
</body>
</html>
